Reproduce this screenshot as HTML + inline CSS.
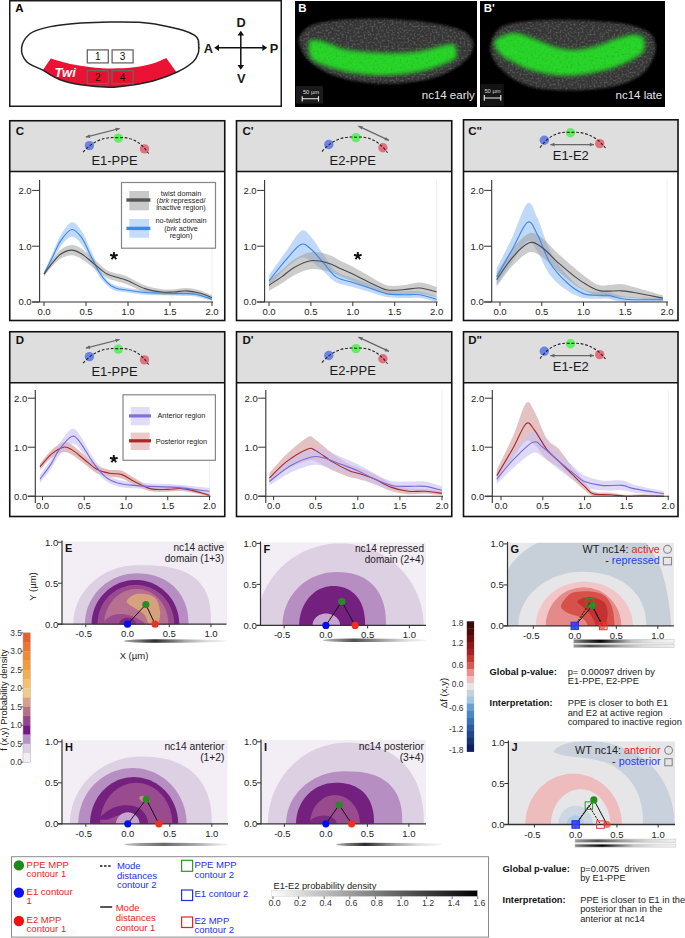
<!DOCTYPE html><html><head><meta charset="utf-8"><title>Figure</title><style>html,body{margin:0;padding:0;background:#fff;width:685px;height:938px;overflow:hidden}svg{display:block;font-family:"Liberation Sans",sans-serif}</style></head><body>
<svg width="685" height="938" viewBox="0 0 685 938">
<rect width="685" height="938" fill="#fff"/>
<rect x="9.75" y="0.75" width="271.5" height="105.5" fill="#fff" stroke="#1a1a1a" stroke-width="1.5"/>
<text x="15.3" y="12.3" font-size="11.5" text-anchor="start" font-weight="bold" font-style="normal" fill="#000" >A</text>
<path d="M50.8,58.5 C54.57,59.52 64.77,62.97 73.4,64.6 C82.03,66.23 92.85,67.8 102.6,68.3 C112.35,68.8 123.37,68.45 131.9,67.6 C140.43,66.75 148.08,64.78 153.8,63.2 C159.52,61.62 164.13,58.95 166.2,58.1 L176.4,71.9 C172.63,73.37 161.22,78.52 153.8,80.7 C146.38,82.88 139.2,83.9 131.9,85 C124.6,86.1 118.53,87.33 110,87.3 C101.47,87.27 89.23,86.15 80.7,84.8 C72.17,83.45 65.13,81.63 58.8,79.2 C52.47,76.77 45.38,71.7 42.7,70.2 Z" fill="#ec1234"/>
<path d="M21.6,47.8 C22.08,43.18 25.83,37.28 29.6,34 C33.37,30.72 39.33,29.57 44.2,28.1 C49.07,26.63 52.72,26.05 58.8,25.2 C64.88,24.35 72.17,23.53 80.7,23 C89.23,22.47 100.25,22.12 110,22 C119.75,21.88 130.68,21.77 139.2,22.3 C147.72,22.83 153.8,23.87 161.1,25.2 C168.4,26.53 177.4,28.6 183,30.3 C188.6,32 192.15,33.78 194.7,35.4 C197.25,37.02 197.65,38.23 198.3,40 C198.95,41.77 198.6,43.83 198.6,46 C198.6,48.17 199.2,50.38 198.3,53 C197.4,55.62 196.72,58.53 193.2,61.7 C189.68,64.87 183.77,68.83 177.2,72 C170.63,75.17 161.35,78.53 153.8,80.7 C146.25,82.87 139.2,83.9 131.9,85 C124.6,86.1 118.53,87.33 110,87.3 C101.47,87.27 89.23,86.15 80.7,84.8 C72.17,83.45 65.13,81.63 58.8,79.2 C52.47,76.77 48.05,73.12 42.7,70.2 C37.35,67.28 30.22,65.43 26.7,61.7 C23.18,57.97 21.12,52.42 21.6,47.8 Z" fill="none" stroke="#222" stroke-width="1.5"/>
<path d="M197.5,39 q2,1.5 0.5,3.5 q2,1.5 0.5,3.5 q2,1.5 0,3.5" fill="none" stroke="#333" stroke-width="0.8"/>
<text x="65.2" y="76.8" font-size="13" text-anchor="middle" font-weight="bold" font-style="italic" fill="#fff" >Twi</text>
<rect x="87.3" y="49.9" width="21" height="13" fill="#fff" stroke="#6e6464" stroke-width="1.3"/>
<text x="97.8" y="60.3" font-size="10" text-anchor="middle" font-weight="normal" font-style="normal" fill="#111" >1</text>
<rect x="112.1" y="49.9" width="21" height="13" fill="#fff" stroke="#6e6464" stroke-width="1.3"/>
<text x="122.6" y="60.3" font-size="10" text-anchor="middle" font-weight="normal" font-style="normal" fill="#111" >3</text>
<rect x="87.3" y="70.6" width="21" height="13" fill="#e8102c" stroke="#6e6464" stroke-width="1.3"/>
<text x="97.8" y="81" font-size="10" text-anchor="middle" font-weight="normal" font-style="normal" fill="#111" >2</text>
<rect x="112.1" y="70.6" width="21" height="13" fill="#e8102c" stroke="#6e6464" stroke-width="1.3"/>
<text x="122.6" y="81" font-size="10" text-anchor="middle" font-weight="normal" font-style="normal" fill="#111" >4</text>
<g stroke="#111" stroke-width="1.5" fill="#111">
<line x1="240.8" y1="34" x2="240.8" y2="66"/><line x1="217" y1="47.8" x2="264" y2="47.8"/>
</g>
<path d="M240.8,30.8 l-3.3,4.8 h6.6 z M240.8,69.8 l-3.3,-4.8 h6.6 z M214.2,47.8 l4.8,-3.3 v6.6 z M267.2,47.8 l-4.8,-3.3 v6.6 z" fill="#111"/>
<text x="241.2" y="27.1" font-size="12.8" text-anchor="middle" font-weight="bold" font-style="normal" fill="#1a1a1a" >D</text>
<text x="241.2" y="82.9" font-size="12.8" text-anchor="middle" font-weight="bold" font-style="normal" fill="#1a1a1a" >V</text>
<text x="208.3" y="53.4" font-size="12.8" text-anchor="middle" font-weight="bold" font-style="normal" fill="#1a1a1a" >A</text>
<text x="273.9" y="53.4" font-size="12.8" text-anchor="middle" font-weight="bold" font-style="normal" fill="#1a1a1a" >P</text>
<defs>
<filter id="texg" x="-5%" y="-5%" width="110%" height="110%">
 <feGaussianBlur in="SourceGraphic" stdDeviation="1.4" result="b"/>
 <feTurbulence type="fractalNoise" baseFrequency="0.5" numOctaves="2" seed="5" result="n"/>
 <feColorMatrix in="n" type="matrix" values="0 0 0 0 0.4  0 0 0 0 0.4  0 0 0 0 0.4  0.5 0 0 0 -0.22" result="spk"/>
 <feComposite in="spk" in2="b" operator="in" result="spk2"/>
 <feMerge><feMergeNode in="b"/><feMergeNode in="spk2"/></feMerge>
</filter>
<filter id="texgr" x="-5%" y="-5%" width="110%" height="110%">
 <feGaussianBlur in="SourceGraphic" stdDeviation="2.2" result="b"/>
 <feTurbulence type="fractalNoise" baseFrequency="0.45" numOctaves="2" seed="9" result="n"/>
 <feColorMatrix in="n" type="matrix" values="0 0 0 0 0  0 0 0 0 0.3  0 0 0 0 0  -1.0 0 0 0 0.5" result="spk"/>
 <feComposite in="spk" in2="b" operator="in" result="spk2"/>
 <feMerge><feMergeNode in="b"/><feMergeNode in="spk2"/></feMerge>
</filter>
</defs>
<rect x="295" y="1" width="182" height="106" fill="#000"/>
<path d="M299.7,36 C301.32,33 304.08,28.93 309.4,26.4 C314.72,23.87 323.28,22.05 331.6,20.8 C339.92,19.55 350.07,19.22 359.3,18.9 C368.53,18.58 377.75,18.58 387,18.9 C396.25,19.22 405.53,19.78 414.8,20.8 C424.07,21.82 434.73,23.38 442.6,25 C450.47,26.62 457.15,28.2 462,30.5 C466.85,32.8 469.87,36.02 471.7,38.8 C473.53,41.58 473.7,43.95 473,47.2 C472.3,50.45 471.18,54.38 467.5,58.3 C463.82,62.22 457.37,67.25 450.9,70.7 C444.43,74.15 437.02,76.92 428.7,79 C420.38,81.08 410.25,82.5 401,83.2 C391.75,83.9 382.45,83.9 373.2,83.2 C363.95,82.5 353.82,81.08 345.5,79 C337.18,76.92 329.78,74.15 323.3,70.7 C316.82,67.25 310.53,62.68 306.6,58.3 C302.67,53.92 300.85,48.12 299.7,44.4 C298.55,40.68 298.08,39 299.7,36 Z" fill="#363636" filter="url(#texg)"/>
<path d="M309.4,41.6 C310.55,38.72 314,39.73 317.7,40.2 C321.4,40.67 326.97,42.85 331.6,44.4 C336.23,45.95 338.57,48.15 345.5,49.5 C352.43,50.85 363.95,51.92 373.2,52.5 C382.45,53.08 392.7,53.28 401,53 C409.3,52.72 416.07,52 423,50.8 C429.93,49.6 437.48,46.87 442.6,45.8 C447.72,44.73 451.4,43.25 453.7,44.4 C456,45.55 456.4,50.17 456.4,52.7 C456.4,55.23 458.32,56.83 453.7,59.6 C449.08,62.37 437.48,66.85 428.7,69.3 C419.92,71.75 410.25,73.37 401,74.3 C391.75,75.23 382.45,75.37 373.2,74.9 C363.95,74.43 353.82,73.15 345.5,71.5 C337.18,69.85 329.08,67.33 323.3,65 C317.52,62.67 313.12,61.4 310.8,57.5 C308.48,53.6 308.25,44.48 309.4,41.6 Z" fill="#2ad42a" filter="url(#texgr)"/>
<rect x="296" y="86.1" width="27" height="17.5" fill="#1a1a1a"/>
<text x="311" y="93.6" font-size="5.8" text-anchor="middle" font-weight="normal" font-style="normal" fill="#ddd" >50 µm</text>
<path d="M302,98.8 h16.7 M302.2,96.2 v5.3 M318.5,96.2 v5.3" stroke="#eee" stroke-width="1.1"/>
<text x="474.8" y="98.8" font-size="11.5" text-anchor="end" font-weight="normal" font-style="normal" fill="#e6e6e6" >nc14 early</text>
<text x="298.2" y="12" font-size="11.5" text-anchor="start" font-weight="bold" font-style="normal" fill="#fff" >B</text>
<rect x="480" y="1" width="185" height="106" fill="#000"/>
<path d="M490.5,44.4 C491.43,38.85 495.35,31.4 500.2,27.7 C505.05,24 511.75,23.48 519.6,22.2 C527.45,20.92 538.07,20.37 547.3,20 C556.53,19.63 565.75,19.73 575,20 C584.25,20.27 593.53,20.77 602.8,21.6 C612.07,22.43 622.73,23.05 630.6,25 C638.47,26.95 645.85,30.07 650,33.3 C654.15,36.53 654.82,40.7 655.5,44.4 C656.18,48.1 655.95,50.88 654.1,55.5 C652.25,60.12 649.25,67.48 644.4,72.1 C639.55,76.72 633.32,80.33 625,83.2 C616.68,86.07 605.13,88.13 594.5,89.3 C583.87,90.47 571.37,90.52 561.2,90.2 C551.03,89.88 541.82,89.48 533.5,87.4 C525.18,85.32 517.78,82.1 511.3,77.7 C504.82,73.3 498.07,66.55 494.6,61 C491.13,55.45 489.57,49.95 490.5,44.4 Z" fill="#363636" filter="url(#texg)"/>
<path d="M494.6,41.6 C495.52,38.38 502,36.08 505.7,34.7 C509.4,33.32 512.17,32.62 516.8,33.3 C521.43,33.98 527.02,36.48 533.5,38.8 C539.98,41.12 548.78,45.33 555.7,47.2 C562.62,49.07 568.07,50.23 575,50 C581.93,49.77 590.35,47.67 597.3,45.8 C604.25,43.93 610.7,40.65 616.7,38.8 C622.7,36.95 628.92,34.92 633.3,34.7 C637.68,34.48 641.15,35.2 643,37.5 C644.85,39.8 645.08,45.5 644.4,48.5 C643.72,51.5 643.52,52.48 638.9,55.5 C634.28,58.52 625.02,63.6 616.7,66.6 C608.38,69.6 598.25,72.03 589,73.5 C579.75,74.97 570.45,75.87 561.2,75.4 C551.95,74.93 541.37,72.87 533.5,70.7 C525.63,68.53 519.55,65.18 514,62.4 C508.45,59.62 503.43,57.47 500.2,54 C496.97,50.53 493.68,44.82 494.6,41.6 Z" fill="#2ad42a" filter="url(#texgr)"/>
<rect x="480.6" y="84.1" width="23.2" height="22" fill="#141414"/>
<text x="492.5" y="93.3" font-size="5.8" text-anchor="middle" font-weight="normal" font-style="normal" fill="#ddd" >50 µm</text>
<path d="M484.1,98 h16.9 M484.3,95.1 v5.7 M500.8,95.1 v5.7" stroke="#eee" stroke-width="1.1"/>
<text x="662.2" y="98.6" font-size="11.5" text-anchor="end" font-weight="normal" font-style="normal" fill="#e6e6e6" >nc14 late</text>
<text x="483.8" y="11.7" font-size="11.5" text-anchor="start" font-weight="bold" font-style="normal" fill="#fff" >B'</text>
<rect x="9.75" y="120.75" width="215" height="50.75" fill="#dedede"/>
<rect x="9.75" y="171.5" width="215" height="149" fill="#fff"/>
<circle cx="89.4" cy="145.6" r="4.7" fill="#6c82e4"/>
<circle cx="118.4" cy="138.1" r="4.7" fill="#62ee62"/>
<circle cx="144.5" cy="148.9" r="4.7" fill="#e2707c"/>
<path d="M83.1,152.2 Q97.22,135.6 118.4,137.8 Q136.52,135.6 148.6,153.5" fill="none" stroke="#222" stroke-width="1.1" stroke-dasharray="2.8,1.8"/>
<line x1="85.8" y1="137.1" x2="119.7" y2="128.5" stroke="#666" stroke-width="1.2"/>
<path d="M119.7,128.5 L115.16,127.69 L116.1,131.37 Z" fill="#666"/>
<path d="M85.8,137.1 L90.34,137.91 L89.4,134.23 Z" fill="#666"/>
<text x="114.5" y="165.3" font-size="13" text-anchor="middle" font-weight="normal" font-style="normal" fill="#1a1a1a" >E1-PPE</text>
<rect x="9.75" y="120.75" width="215" height="199.75" fill="none" stroke="#111" stroke-width="1.6"/>
<line x1="9.75" y1="171.5" x2="224.75" y2="171.5" stroke="#111" stroke-width="1.6"/>
<rect x="236.5" y="120.75" width="215.25" height="50.75" fill="#dedede"/>
<rect x="236.5" y="171.5" width="215.25" height="149" fill="#fff"/>
<circle cx="328.8" cy="144.5" r="4.7" fill="#6c82e4"/>
<circle cx="356" cy="137.6" r="4.7" fill="#62ee62"/>
<circle cx="382.9" cy="147.7" r="4.7" fill="#e2707c"/>
<path d="M322,151.6 Q335.6,135.1 356,137.3 Q374.9,135.1 387.5,152.8" fill="none" stroke="#222" stroke-width="1.1" stroke-dasharray="2.8,1.8"/>
<line x1="358.4" y1="126.1" x2="389" y2="140.4" stroke="#666" stroke-width="1.2"/>
<path d="M389,140.4 L386,136.9 L384.39,140.34 Z" fill="#666"/>
<path d="M358.4,126.1 L361.4,129.6 L363.01,126.16 Z" fill="#666"/>
<text x="352.7" y="164.8" font-size="13" text-anchor="middle" font-weight="normal" font-style="normal" fill="#1a1a1a" >E2-PPE</text>
<rect x="236.5" y="120.75" width="215.25" height="199.75" fill="none" stroke="#111" stroke-width="1.6"/>
<line x1="236.5" y1="171.5" x2="451.75" y2="171.5" stroke="#111" stroke-width="1.6"/>
<rect x="463.5" y="119.8" width="214.5" height="51.7" fill="#dedede"/>
<rect x="463.5" y="171.5" width="214.5" height="149" fill="#fff"/>
<circle cx="544.3" cy="140.2" r="4.7" fill="#6c82e4"/>
<circle cx="570.5" cy="132.8" r="4.7" fill="#62ee62"/>
<circle cx="599.7" cy="143.6" r="4.7" fill="#e2707c"/>
<path d="M540,147.6 Q552.2,130.3 570.5,132.5 Q591.5,130.3 605.5,148" fill="none" stroke="#222" stroke-width="1.1" stroke-dasharray="2.8,1.8"/>
<line x1="550.3" y1="144.6" x2="594" y2="144.6" stroke="#666" stroke-width="1.2"/>
<path d="M594,144.6 L589.8,142.7 L589.8,146.5 Z" fill="#666"/>
<path d="M550.3,144.6 L554.5,146.5 L554.5,142.7 Z" fill="#666"/>
<text x="570.8" y="160.4" font-size="13" text-anchor="middle" font-weight="normal" font-style="normal" fill="#1a1a1a" >E1-E2</text>
<rect x="463.5" y="119.8" width="214.5" height="200.7" fill="none" stroke="#111" stroke-width="1.6"/>
<line x1="463.5" y1="171.5" x2="678" y2="171.5" stroke="#111" stroke-width="1.6"/>
<text x="15.75" y="135" font-size="11.5" text-anchor="start" font-weight="bold" font-style="normal" fill="#111" >C</text>
<text x="242.5" y="135" font-size="11.5" text-anchor="start" font-weight="bold" font-style="normal" fill="#111" >C'</text>
<text x="468.3" y="135" font-size="11.5" text-anchor="start" font-weight="bold" font-style="normal" fill="#111" >C"</text>
<rect x="9.75" y="331.75" width="215" height="51" fill="#dedede"/>
<rect x="9.75" y="382.75" width="215" height="133.75" fill="#fff"/>
<circle cx="89.4" cy="356.6" r="4.7" fill="#6c82e4"/>
<circle cx="118.4" cy="349.1" r="4.7" fill="#62ee62"/>
<circle cx="144.5" cy="359.9" r="4.7" fill="#e2707c"/>
<path d="M83.1,363.2 Q97.22,346.6 118.4,348.8 Q136.52,346.6 148.6,364.5" fill="none" stroke="#222" stroke-width="1.1" stroke-dasharray="2.8,1.8"/>
<line x1="85.8" y1="348.1" x2="119.7" y2="339.5" stroke="#666" stroke-width="1.2"/>
<path d="M119.7,339.5 L115.16,338.69 L116.1,342.37 Z" fill="#666"/>
<path d="M85.8,348.1 L90.34,348.91 L89.4,345.23 Z" fill="#666"/>
<text x="114.5" y="375.8" font-size="13" text-anchor="middle" font-weight="normal" font-style="normal" fill="#1a1a1a" >E1-PPE</text>
<rect x="9.75" y="331.75" width="215" height="184.75" fill="none" stroke="#111" stroke-width="1.6"/>
<line x1="9.75" y1="382.75" x2="224.75" y2="382.75" stroke="#111" stroke-width="1.6"/>
<rect x="236.5" y="331.75" width="215.25" height="51" fill="#dedede"/>
<rect x="236.5" y="382.75" width="215.25" height="133.75" fill="#fff"/>
<circle cx="328.8" cy="355.5" r="4.7" fill="#6c82e4"/>
<circle cx="356" cy="348.6" r="4.7" fill="#62ee62"/>
<circle cx="382.9" cy="358.7" r="4.7" fill="#e2707c"/>
<path d="M322,362.6 Q335.6,346.1 356,348.3 Q374.9,346.1 387.5,363.8" fill="none" stroke="#222" stroke-width="1.1" stroke-dasharray="2.8,1.8"/>
<line x1="358.4" y1="337.1" x2="389" y2="351.4" stroke="#666" stroke-width="1.2"/>
<path d="M389,351.4 L386,347.9 L384.39,351.34 Z" fill="#666"/>
<path d="M358.4,337.1 L361.4,340.6 L363.01,337.16 Z" fill="#666"/>
<text x="352.7" y="375.3" font-size="13" text-anchor="middle" font-weight="normal" font-style="normal" fill="#1a1a1a" >E2-PPE</text>
<rect x="236.5" y="331.75" width="215.25" height="184.75" fill="none" stroke="#111" stroke-width="1.6"/>
<line x1="236.5" y1="382.75" x2="451.75" y2="382.75" stroke="#111" stroke-width="1.6"/>
<rect x="463.5" y="331.75" width="214.5" height="51" fill="#dedede"/>
<rect x="463.5" y="382.75" width="214.5" height="133.75" fill="#fff"/>
<circle cx="544.3" cy="351.2" r="4.7" fill="#6c82e4"/>
<circle cx="570.5" cy="343.8" r="4.7" fill="#62ee62"/>
<circle cx="599.7" cy="354.6" r="4.7" fill="#e2707c"/>
<path d="M540,358.6 Q552.2,341.3 570.5,343.5 Q591.5,341.3 605.5,359" fill="none" stroke="#222" stroke-width="1.1" stroke-dasharray="2.8,1.8"/>
<line x1="550.3" y1="355.6" x2="594" y2="355.6" stroke="#666" stroke-width="1.2"/>
<path d="M594,355.6 L589.8,353.7 L589.8,357.5 Z" fill="#666"/>
<path d="M550.3,355.6 L554.5,357.5 L554.5,353.7 Z" fill="#666"/>
<text x="570.8" y="370.9" font-size="13" text-anchor="middle" font-weight="normal" font-style="normal" fill="#1a1a1a" >E1-E2</text>
<rect x="463.5" y="331.75" width="214.5" height="184.75" fill="none" stroke="#111" stroke-width="1.6"/>
<line x1="463.5" y1="382.75" x2="678" y2="382.75" stroke="#111" stroke-width="1.6"/>
<text x="15.75" y="343.5" font-size="11.5" text-anchor="start" font-weight="bold" font-style="normal" fill="#111" >D</text>
<text x="242.5" y="343.5" font-size="11.5" text-anchor="start" font-weight="bold" font-style="normal" fill="#111" >D'</text>
<text x="468.3" y="343.5" font-size="11.5" text-anchor="start" font-weight="bold" font-style="normal" fill="#111" >D"</text>
<line x1="212" y1="180" x2="212" y2="302" stroke="#eeeeee" stroke-width="1"/>
<path d="M44,271.87 C45.4,268.8 49.6,259.59 52.4,253.45 C55.2,247.32 57.58,240.25 60.8,235.04 C64.02,229.83 68.22,222.86 71.72,222.21 C75.22,221.56 78.72,226.67 81.8,231.13 C84.88,235.6 87.4,242.95 90.2,248.99 C93,255.03 95.8,262.29 98.6,267.4 C101.4,272.52 104.2,276.7 107,279.68 C109.8,282.66 111.9,283.87 115.4,285.26 C118.9,286.65 123.1,287.21 128,288.05 C132.9,288.89 139.2,289.82 144.8,290.28 C150.4,290.75 156,290.65 161.6,290.84 C167.2,291.03 172.8,291.21 178.4,291.4 C184,291.58 189.6,290.93 195.2,291.96 C200.8,292.98 209.2,296.61 212,297.54 L212,300.88 C209.2,300.14 200.8,297.26 195.2,296.42 C189.6,295.58 184,296.05 178.4,295.86 C172.8,295.68 167.2,295.49 161.6,295.3 C156,295.12 150.4,295.21 144.8,294.75 C139.2,294.28 132.9,293.17 128,292.51 C123.1,291.86 118.9,292.05 115.4,290.84 C111.9,289.63 109.8,287.86 107,285.26 C104.2,282.66 101.4,279.4 98.6,275.22 C95.8,271.03 93,265.26 90.2,260.15 C87.4,255.03 84.88,248.43 81.8,244.53 C78.72,240.62 75.22,236.44 71.72,236.71 C68.22,236.99 64.02,242.11 60.8,246.2 C57.58,250.29 55.2,256.24 52.4,261.27 C49.6,266.29 45.4,273.82 44,276.33 Z" fill="#a9cbf7" fill-opacity="0.72"/>
<path d="M44,271.87 C45.4,269.82 49.6,263.31 52.4,259.59 C55.2,255.87 57.58,251.97 60.8,249.55 C64.02,247.13 68.22,245.18 71.72,245.08 C75.22,244.99 78.02,246.57 81.8,248.99 C85.58,251.41 90.2,256.06 94.4,259.59 C98.6,263.13 102.8,267.78 107,270.19 C111.2,272.61 116.1,272.98 119.6,274.1 C123.1,275.22 123.8,275.03 128,276.89 C132.2,278.75 139.2,283.21 144.8,285.26 C150.4,287.31 156.7,288.51 161.6,289.17 C166.5,289.82 170,289.35 174.2,289.17 C178.4,288.98 182.6,287.86 186.8,288.05 C191,288.24 195.2,289.07 199.4,290.28 C203.6,291.49 209.9,294.47 212,295.3 L212,299.77 C209.9,299.12 203.6,296.88 199.4,295.86 C195.2,294.84 191,293.82 186.8,293.63 C182.6,293.44 178.4,294.56 174.2,294.75 C170,294.93 166.5,295.21 161.6,294.75 C156.7,294.28 150.4,293.63 144.8,291.96 C139.2,290.28 132.2,286.38 128,284.7 C123.8,283.03 123.1,283.03 119.6,281.91 C116.1,280.8 111.2,280.24 107,278.01 C102.8,275.77 98.6,271.68 94.4,268.52 C90.2,265.36 85.58,261.27 81.8,259.03 C78.02,256.8 75.22,255.22 71.72,255.13 C68.22,255.03 64.02,256.62 60.8,258.48 C57.58,260.34 55.2,263.31 52.4,266.29 C49.6,269.26 45.4,274.66 44,276.33 Z" fill="#9a9a9a" fill-opacity="0.5"/>
<path d="M44,274.1 C45.4,271.31 49.6,262.94 52.4,257.36 C55.2,251.78 57.58,245.27 60.8,240.62 C64.02,235.97 68.22,229.93 71.72,229.46 C75.22,229 78.72,233.65 81.8,237.83 C84.88,242.02 87.4,248.99 90.2,254.57 C93,260.15 95.8,266.66 98.6,271.31 C101.4,275.96 104.2,279.68 107,282.47 C109.8,285.26 111.9,286.75 115.4,288.05 C118.9,289.35 123.1,289.54 128,290.28 C132.9,291.03 139.2,292.05 144.8,292.51 C150.4,292.98 156,292.89 161.6,293.07 C167.2,293.26 172.8,293.44 178.4,293.63 C184,293.82 189.6,293.26 195.2,294.19 C200.8,295.12 209.2,298.37 212,299.21" fill="none" stroke="#3a88e8" stroke-width="1.1"/>
<path d="M44,274.1 C45.4,272.24 49.6,266.29 52.4,262.94 C55.2,259.59 57.58,256.15 60.8,254.01 C64.02,251.87 68.22,250.11 71.72,250.11 C75.22,250.11 78.02,251.69 81.8,254.01 C85.58,256.34 90.2,260.71 94.4,264.06 C98.6,267.4 102.8,271.78 107,274.1 C111.2,276.43 116.1,276.89 119.6,278.01 C123.1,279.12 123.8,279.03 128,280.8 C132.2,282.56 139.2,286.75 144.8,288.61 C150.4,290.47 156.7,291.4 161.6,291.96 C166.5,292.51 170,292.14 174.2,291.96 C178.4,291.77 182.6,290.65 186.8,290.84 C191,291.03 195.2,291.96 199.4,293.07 C203.6,294.19 209.9,296.79 212,297.54" fill="none" stroke="#4a4a4a" stroke-width="1.1"/>
<line x1="39.6" y1="180" x2="39.6" y2="302" stroke="#333" stroke-width="1.1"/>
<line x1="32.1" y1="302" x2="213" y2="302" stroke="#333" stroke-width="1.1"/>
<line x1="32.1" y1="190.4" x2="39.6" y2="190.4" stroke="#333" stroke-width="1"/>
<text x="31.6" y="193.8" font-size="9.5" text-anchor="end" font-weight="normal" font-style="normal" fill="#222" >2.0</text>
<line x1="32.1" y1="246.2" x2="39.6" y2="246.2" stroke="#333" stroke-width="1"/>
<text x="31.6" y="249.6" font-size="9.5" text-anchor="end" font-weight="normal" font-style="normal" fill="#222" >1.0</text>
<line x1="32.1" y1="302" x2="39.6" y2="302" stroke="#333" stroke-width="1"/>
<text x="31.6" y="305.4" font-size="9.5" text-anchor="end" font-weight="normal" font-style="normal" fill="#222" >0.0</text>
<line x1="44" y1="302" x2="44" y2="306" stroke="#333" stroke-width="1"/>
<text x="44" y="314.5" font-size="9.5" text-anchor="middle" font-weight="normal" font-style="normal" fill="#222" >0.0</text>
<line x1="86" y1="302" x2="86" y2="306" stroke="#333" stroke-width="1"/>
<text x="86" y="314.5" font-size="9.5" text-anchor="middle" font-weight="normal" font-style="normal" fill="#222" >0.5</text>
<line x1="128" y1="302" x2="128" y2="306" stroke="#333" stroke-width="1"/>
<text x="128" y="314.5" font-size="9.5" text-anchor="middle" font-weight="normal" font-style="normal" fill="#222" >1.0</text>
<line x1="170" y1="302" x2="170" y2="306" stroke="#333" stroke-width="1"/>
<text x="170" y="314.5" font-size="9.5" text-anchor="middle" font-weight="normal" font-style="normal" fill="#222" >1.5</text>
<line x1="212" y1="302" x2="212" y2="306" stroke="#333" stroke-width="1"/>
<text x="212" y="314.5" font-size="9.5" text-anchor="middle" font-weight="normal" font-style="normal" fill="#222" >2.0</text>
<rect x="121.5" y="182.5" width="94" height="65.7" fill="#fff" stroke="#8a8484" stroke-width="1.2"/>
<rect x="129.3" y="191" width="19.8" height="19.3" fill="#c9c9c9"/>
<rect x="126.4" y="198.3" width="24" height="3.4" fill="#555"/>
<rect x="129.3" y="219" width="19.8" height="18.7" fill="#c4dcfa"/>
<rect x="126.4" y="226.7" width="24" height="3.4" fill="#3a8ae8"/>
<text x="181" y="196" font-size="7.3" text-anchor="middle" font-weight="normal" font-style="normal" fill="#222" >twist domain</text>
<text x="181" y="203" font-size="7.3" text-anchor="middle" font-weight="normal" font-style="normal" fill="#222" >(<tspan font-style="italic">brk</tspan> repressed/</text>
<text x="181" y="210" font-size="7.3" text-anchor="middle" font-weight="normal" font-style="normal" fill="#222" >inactive region)</text>
<text x="181" y="223.3" font-size="7.3" text-anchor="middle" font-weight="normal" font-style="normal" fill="#222" >no-twist domain</text>
<text x="181" y="230.5" font-size="7.3" text-anchor="middle" font-weight="normal" font-style="normal" fill="#222" >(<tspan font-style="italic">brk</tspan> active</text>
<text x="181" y="237.6" font-size="7.3" text-anchor="middle" font-weight="normal" font-style="normal" fill="#222" >region)</text>
<path d="M113.9,256 L113.9,252 M113.9,256 L117.7,254.76 M113.9,256 L116.25,259.24 M113.9,256 L111.55,259.24 M113.9,256 L110.1,254.76 " stroke="#111" stroke-width="1.9" stroke-linecap="butt"/>
<line x1="436.6" y1="180" x2="436.6" y2="302" stroke="#eeeeee" stroke-width="1"/>
<path d="M269,275.22 C271.79,271.31 280.45,259.13 285.76,251.78 C291.07,244.43 296.65,233.65 300.84,231.13 C305.03,228.62 307.13,232.81 310.9,236.71 C314.67,240.62 319.28,248.8 323.47,254.57 C327.66,260.34 331.15,267.4 336.04,271.31 C340.93,275.22 347.21,275.87 352.8,278.01 C358.39,280.14 363.97,282.1 369.56,284.14 C375.15,286.19 380.73,289.07 386.32,290.28 C391.91,291.49 397.49,291.21 403.08,291.4 C408.67,291.58 414.25,290.56 419.84,291.4 C425.43,292.24 433.81,295.58 436.6,296.42 L436.6,302 C433.81,301.35 425.43,298.75 419.84,298.09 C414.25,297.44 408.67,298.28 403.08,298.09 C397.49,297.91 391.91,298 386.32,296.98 C380.73,295.96 375.15,293.63 369.56,291.96 C363.97,290.28 358.39,288.52 352.8,286.93 C347.21,285.35 340.93,285.07 336.04,282.47 C331.15,279.87 327.66,274.84 323.47,271.31 C319.28,267.78 314.67,263.5 310.9,261.27 C307.13,259.03 305.03,256.71 300.84,257.92 C296.65,259.13 291.07,263.78 285.76,268.52 C280.45,273.26 271.79,283.4 269,286.38 Z" fill="#a9cbf7" fill-opacity="0.72"/>
<path d="M269,279.68 C271.1,278.1 277.38,273.54 281.57,270.19 C285.76,266.85 289.25,262.57 294.14,259.59 C299.03,256.62 305.31,253.17 310.9,252.34 C316.49,251.5 322.77,253.17 327.66,254.57 C332.55,255.97 336.04,258.66 340.23,260.71 C344.42,262.75 347.91,264.24 352.8,266.85 C357.69,269.45 363.97,273.26 369.56,276.33 C375.15,279.4 380.73,283.77 386.32,285.26 C391.91,286.75 397.49,285.72 403.08,285.26 C408.67,284.8 414.25,282.19 419.84,282.47 C425.43,282.75 433.81,286.19 436.6,286.93 L436.6,296.98 C433.81,296.42 425.43,294.1 419.84,293.63 C414.25,293.16 408.67,294.09 403.08,294.19 C397.49,294.28 391.91,295.12 386.32,294.19 C380.73,293.26 375.15,290.75 369.56,288.61 C363.97,286.47 357.69,283.4 352.8,281.35 C347.91,279.31 344.42,278.01 340.23,276.33 C336.04,274.66 332.55,272.52 327.66,271.31 C322.77,270.1 316.49,268.43 310.9,269.08 C305.31,269.73 299.03,272.8 294.14,275.22 C289.25,277.63 285.76,280.98 281.57,283.59 C277.38,286.19 271.1,289.63 269,290.84 Z" fill="#9a9a9a" fill-opacity="0.5"/>
<path d="M269,280.8 C271.79,277.36 280.45,266.19 285.76,260.15 C291.07,254.1 296.65,246.39 300.84,244.53 C305.03,242.67 307.13,245.92 310.9,248.99 C314.67,252.06 319.28,258.29 323.47,262.94 C327.66,267.59 331.15,273.63 336.04,276.89 C340.93,280.14 347.21,280.61 352.8,282.47 C358.39,284.33 363.97,286.19 369.56,288.05 C375.15,289.91 380.73,292.51 386.32,293.63 C391.91,294.75 397.49,294.56 403.08,294.75 C408.67,294.93 414.25,294 419.84,294.75 C425.43,295.49 433.81,298.47 436.6,299.21" fill="none" stroke="#3a88e8" stroke-width="1.1"/>
<path d="M269,285.26 C271.1,283.87 277.38,279.87 281.57,276.89 C285.76,273.91 289.25,270.1 294.14,267.4 C299.03,264.71 305.31,261.45 310.9,260.71 C316.49,259.96 322.77,261.64 327.66,262.94 C332.55,264.24 336.04,266.66 340.23,268.52 C344.42,270.38 347.91,271.78 352.8,274.1 C357.69,276.43 363.97,279.87 369.56,282.47 C375.15,285.07 380.73,288.51 386.32,289.72 C391.91,290.93 397.49,290 403.08,289.72 C408.67,289.44 414.25,287.68 419.84,288.05 C425.43,288.42 433.81,291.31 436.6,291.96" fill="none" stroke="#4a4a4a" stroke-width="1.1"/>
<line x1="264.6" y1="180" x2="264.6" y2="302" stroke="#333" stroke-width="1.1"/>
<line x1="257.1" y1="302" x2="437.6" y2="302" stroke="#333" stroke-width="1.1"/>
<line x1="257.1" y1="190.4" x2="264.6" y2="190.4" stroke="#333" stroke-width="1"/>
<text x="256.6" y="193.8" font-size="9.5" text-anchor="end" font-weight="normal" font-style="normal" fill="#222" >2.0</text>
<line x1="257.1" y1="246.2" x2="264.6" y2="246.2" stroke="#333" stroke-width="1"/>
<text x="256.6" y="249.6" font-size="9.5" text-anchor="end" font-weight="normal" font-style="normal" fill="#222" >1.0</text>
<line x1="257.1" y1="302" x2="264.6" y2="302" stroke="#333" stroke-width="1"/>
<text x="256.6" y="305.4" font-size="9.5" text-anchor="end" font-weight="normal" font-style="normal" fill="#222" >0.0</text>
<line x1="269" y1="302" x2="269" y2="306" stroke="#333" stroke-width="1"/>
<text x="269" y="314.5" font-size="9.5" text-anchor="middle" font-weight="normal" font-style="normal" fill="#222" >0.0</text>
<line x1="310.9" y1="302" x2="310.9" y2="306" stroke="#333" stroke-width="1"/>
<text x="310.9" y="314.5" font-size="9.5" text-anchor="middle" font-weight="normal" font-style="normal" fill="#222" >0.5</text>
<line x1="352.8" y1="302" x2="352.8" y2="306" stroke="#333" stroke-width="1"/>
<text x="352.8" y="314.5" font-size="9.5" text-anchor="middle" font-weight="normal" font-style="normal" fill="#222" >1.0</text>
<line x1="394.7" y1="302" x2="394.7" y2="306" stroke="#333" stroke-width="1"/>
<text x="394.7" y="314.5" font-size="9.5" text-anchor="middle" font-weight="normal" font-style="normal" fill="#222" >1.5</text>
<line x1="436.6" y1="302" x2="436.6" y2="306" stroke="#333" stroke-width="1"/>
<text x="436.6" y="314.5" font-size="9.5" text-anchor="middle" font-weight="normal" font-style="normal" fill="#222" >2.0</text>
<path d="M357.8,256 L357.8,252 M357.8,256 L361.6,254.76 M357.8,256 L360.15,259.24 M357.8,256 L355.45,259.24 M357.8,256 L354,254.76 " stroke="#111" stroke-width="1.9" stroke-linecap="butt"/>
<line x1="667" y1="180" x2="667" y2="302" stroke="#eeeeee" stroke-width="1"/>
<path d="M496.66,268.52 C499.3,263.22 507.38,247.59 512.52,236.71 C517.67,225.83 523.38,206.3 527.55,203.23 C531.73,200.17 533.82,210.4 537.58,218.3 C541.33,226.21 545.23,241.27 550.1,250.66 C554.97,260.06 561.23,268.24 566.8,274.66 C572.37,281.07 577.93,286.28 583.5,289.17 C589.07,292.05 596.03,291.49 600.2,291.96 C604.38,292.42 604.38,291.21 608.55,291.96 C612.72,292.7 616.2,295.4 625.25,296.42 C634.3,297.44 656.56,297.81 662.83,298.09 L662.83,301.44 C656.56,301.54 634.3,302.47 625.25,302 C616.2,301.53 612.72,299.21 608.55,298.65 C604.38,298.09 604.38,298.75 600.2,298.65 C596.03,298.56 589.07,299.49 583.5,298.09 C577.93,296.7 572.37,294.09 566.8,290.28 C561.23,286.47 554.97,281.63 550.1,275.22 C545.23,268.8 541.33,257.45 537.58,251.78 C533.82,246.11 531.73,239.6 527.55,241.18 C523.38,242.76 517.67,253.92 512.52,261.27 C507.38,268.61 499.3,281.26 496.66,285.26 Z" fill="#a9cbf7" fill-opacity="0.72"/>
<path d="M496.66,272.98 C499.3,268.99 507.1,255.59 512.52,248.99 C517.95,242.39 524.35,235.23 529.23,233.37 C534.1,231.51 536.88,234.39 541.75,237.83 C546.62,241.27 552.88,248.9 558.45,254.01 C564.02,259.13 570.28,264.43 575.15,268.52 C580.02,272.61 583.5,275.77 587.67,278.56 C591.85,281.35 594.63,284.33 600.2,285.26 C605.77,286.19 615.51,283.87 621.08,284.14 C626.64,284.42 626.64,285.07 633.6,286.93 C640.56,288.79 657.95,293.91 662.83,295.3 L662.83,300.88 C657.95,300.42 640.56,298.65 633.6,298.09 C626.64,297.54 626.64,297.81 621.08,297.54 C615.51,297.26 605.77,297.35 600.2,296.42 C594.63,295.49 591.85,293.82 587.67,291.96 C583.5,290.1 580.02,288.61 575.15,285.26 C570.28,281.91 564.02,276.61 558.45,271.87 C552.88,267.12 546.62,260.06 541.75,256.8 C536.88,253.55 534.1,250.85 529.23,252.34 C524.35,253.83 517.95,260.06 512.52,265.73 C507.1,271.4 499.3,282.94 496.66,286.38 Z" fill="#9a9a9a" fill-opacity="0.5"/>
<path d="M496.66,276.89 C499.3,272.24 507.38,258.1 512.52,248.99 C517.67,239.88 523.38,224.53 527.55,222.21 C531.73,219.88 533.82,228.25 537.58,235.04 C541.33,241.83 545.23,255.03 550.1,262.94 C554.97,270.85 561.23,277.36 566.8,282.47 C572.37,287.59 577.93,291.49 583.5,293.63 C589.07,295.77 596.03,295.02 600.2,295.3 C604.38,295.58 604.38,294.65 608.55,295.3 C612.72,295.95 616.2,298.47 625.25,299.21 C634.3,299.95 656.56,299.67 662.83,299.77" fill="none" stroke="#3a88e8" stroke-width="1.1"/>
<path d="M496.66,279.68 C499.3,275.96 507.1,263.5 512.52,257.36 C517.95,251.22 524.35,244.53 529.23,242.85 C534.1,241.18 536.88,243.97 541.75,247.32 C546.62,250.66 552.88,258.01 558.45,262.94 C564.02,267.87 570.28,273.17 575.15,276.89 C580.02,280.61 583.5,282.94 587.67,285.26 C591.85,287.58 594.63,289.91 600.2,290.84 C605.77,291.77 615.51,290.56 621.08,290.84 C626.64,291.12 626.64,291.31 633.6,292.51 C640.56,293.72 657.95,297.16 662.83,298.09" fill="none" stroke="#4a4a4a" stroke-width="1.1"/>
<line x1="491.7" y1="180" x2="491.7" y2="302" stroke="#333" stroke-width="1.1"/>
<line x1="484.2" y1="302" x2="668" y2="302" stroke="#333" stroke-width="1.1"/>
<line x1="484.2" y1="190.4" x2="491.7" y2="190.4" stroke="#333" stroke-width="1"/>
<text x="483.7" y="193.8" font-size="9.5" text-anchor="end" font-weight="normal" font-style="normal" fill="#222" >2.0</text>
<line x1="484.2" y1="246.2" x2="491.7" y2="246.2" stroke="#333" stroke-width="1"/>
<text x="483.7" y="249.6" font-size="9.5" text-anchor="end" font-weight="normal" font-style="normal" fill="#222" >1.0</text>
<line x1="484.2" y1="302" x2="491.7" y2="302" stroke="#333" stroke-width="1"/>
<text x="483.7" y="305.4" font-size="9.5" text-anchor="end" font-weight="normal" font-style="normal" fill="#222" >0.0</text>
<line x1="500" y1="302" x2="500" y2="306" stroke="#333" stroke-width="1"/>
<text x="500" y="314.5" font-size="9.5" text-anchor="middle" font-weight="normal" font-style="normal" fill="#222" >0.0</text>
<line x1="541.75" y1="302" x2="541.75" y2="306" stroke="#333" stroke-width="1"/>
<text x="541.75" y="314.5" font-size="9.5" text-anchor="middle" font-weight="normal" font-style="normal" fill="#222" >0.5</text>
<line x1="583.5" y1="302" x2="583.5" y2="306" stroke="#333" stroke-width="1"/>
<text x="583.5" y="314.5" font-size="9.5" text-anchor="middle" font-weight="normal" font-style="normal" fill="#222" >1.0</text>
<line x1="625.25" y1="302" x2="625.25" y2="306" stroke="#333" stroke-width="1"/>
<text x="625.25" y="314.5" font-size="9.5" text-anchor="middle" font-weight="normal" font-style="normal" fill="#222" >1.5</text>
<line x1="667" y1="302" x2="667" y2="306" stroke="#333" stroke-width="1"/>
<text x="667" y="314.5" font-size="9.5" text-anchor="middle" font-weight="normal" font-style="normal" fill="#222" >2.0</text>
<line x1="209.5" y1="390" x2="209.5" y2="496.2" stroke="#eeeeee" stroke-width="1"/>
<path d="M39.99,463.86 C41.8,461.66 46.95,454.22 50.85,450.63 C54.75,447.04 59.9,443.28 63.38,442.3 C66.85,441.32 68.25,442.63 71.72,444.75 C75.2,446.87 80.08,451.61 84.25,455.04 C88.42,458.47 92.6,462.88 96.78,465.33 C100.95,467.78 105.12,468.84 109.3,469.74 C113.47,470.64 117.65,469.33 121.83,470.72 C126,472.11 129.48,475.46 134.35,478.07 C139.22,480.68 145.48,484.93 151.05,486.4 C156.62,487.87 162.18,486.89 167.75,486.89 C173.32,486.89 177.49,485.26 184.45,486.4 C191.41,487.54 205.32,492.52 209.5,493.75 L209.5,496.2 C205.32,495.38 191.41,492.04 184.45,491.3 C177.49,490.56 173.32,491.79 167.75,491.79 C162.18,491.79 156.62,492.44 151.05,491.3 C145.48,490.16 139.22,487.05 134.35,484.93 C129.48,482.81 126,479.95 121.83,478.56 C117.65,477.17 113.47,477.5 109.3,476.6 C105.12,475.7 100.95,475.29 96.78,473.17 C92.6,471.05 88.42,466.96 84.25,463.86 C80.08,460.76 75.2,456.51 71.72,454.55 C68.25,452.59 66.85,451.45 63.38,452.1 C59.9,452.75 54.75,455.53 50.85,458.47 C46.95,461.41 41.8,467.86 39.99,469.74 Z" fill="#cf9090" fill-opacity="0.6"/>
<path d="M39.99,475.13 C41.8,472.52 47.65,464.68 50.85,459.45 C54.05,454.22 55.72,448.83 59.2,443.77 C62.68,438.71 68.25,430.46 71.72,429.07 C75.2,427.68 76.6,430.78 80.08,435.44 C83.55,440.1 88.42,450.79 92.6,457 C96.77,463.21 100.95,468.92 105.12,472.68 C109.3,476.44 112.78,477.91 117.65,479.54 C122.52,481.17 128.78,481.83 134.35,482.48 C139.92,483.13 144.09,483.13 151.05,483.46 C158.01,483.79 166.36,483.7 176.1,484.44 C185.84,485.18 203.93,487.3 209.5,487.87 L209.5,494.73 C203.93,493.99 185.84,491.22 176.1,490.32 C166.36,489.42 158.01,489.67 151.05,489.34 C144.09,489.01 139.92,488.85 134.35,488.36 C128.78,487.87 122.52,487.71 117.65,486.4 C112.78,485.09 109.3,483.79 105.12,480.52 C100.95,477.25 96.77,472.03 92.6,466.8 C88.42,461.57 83.55,453 80.08,449.16 C76.6,445.32 75.2,442.71 71.72,443.77 C68.25,444.83 62.68,451.28 59.2,455.53 C55.72,459.78 54.05,464.68 50.85,469.25 C47.65,473.82 41.8,480.68 39.99,482.97 Z" fill="#c8c0f2" fill-opacity="0.6"/>
<path d="M39.99,466.8 C41.8,464.76 46.95,457.82 50.85,454.55 C54.75,451.28 59.9,448.02 63.38,447.2 C66.85,446.38 68.25,447.61 71.72,449.65 C75.2,451.69 80.08,456.18 84.25,459.45 C88.42,462.72 92.6,466.96 96.78,469.25 C100.95,471.54 105.12,472.27 109.3,473.17 C113.47,474.07 117.65,473.25 121.83,474.64 C126,476.03 129.48,479.13 134.35,481.5 C139.22,483.87 145.48,487.54 151.05,488.85 C156.62,490.16 162.18,489.34 167.75,489.34 C173.32,489.34 177.49,487.87 184.45,488.85 C191.41,489.83 205.32,494.16 209.5,495.22" fill="none" stroke="#a82828" stroke-width="1.1"/>
<path d="M39.99,479.05 C41.8,476.6 47.65,469.25 50.85,464.35 C54.05,459.45 55.72,454.3 59.2,449.65 C62.68,445 68.25,437.64 71.72,436.42 C75.2,435.19 76.6,438.05 80.08,442.3 C83.55,446.55 88.42,456.18 92.6,461.9 C96.77,467.62 100.95,473.09 105.12,476.6 C109.3,480.11 112.78,481.5 117.65,482.97 C122.52,484.44 128.78,484.85 134.35,485.42 C139.92,485.99 144.09,486.07 151.05,486.4 C158.01,486.73 166.36,486.56 176.1,487.38 C185.84,488.2 203.93,490.65 209.5,491.3" fill="none" stroke="#7a6ad8" stroke-width="1.1"/>
<line x1="35.3" y1="390" x2="35.3" y2="503" stroke="#333" stroke-width="1.1"/>
<line x1="27.8" y1="496.2" x2="210.5" y2="496.2" stroke="#333" stroke-width="1.1"/>
<line x1="27.8" y1="398.2" x2="35.3" y2="398.2" stroke="#333" stroke-width="1"/>
<text x="27.3" y="401.6" font-size="9.5" text-anchor="end" font-weight="normal" font-style="normal" fill="#222" >2.0</text>
<line x1="27.8" y1="447.2" x2="35.3" y2="447.2" stroke="#333" stroke-width="1"/>
<text x="27.3" y="450.6" font-size="9.5" text-anchor="end" font-weight="normal" font-style="normal" fill="#222" >1.0</text>
<line x1="27.8" y1="496.2" x2="35.3" y2="496.2" stroke="#333" stroke-width="1"/>
<text x="27.3" y="499.6" font-size="9.5" text-anchor="end" font-weight="normal" font-style="normal" fill="#222" >0.0</text>
<line x1="42.5" y1="496.2" x2="42.5" y2="500.2" stroke="#333" stroke-width="1"/>
<text x="42.5" y="508.7" font-size="9.5" text-anchor="middle" font-weight="normal" font-style="normal" fill="#222" >0.0</text>
<line x1="84.25" y1="496.2" x2="84.25" y2="500.2" stroke="#333" stroke-width="1"/>
<text x="84.25" y="508.7" font-size="9.5" text-anchor="middle" font-weight="normal" font-style="normal" fill="#222" >0.5</text>
<line x1="126" y1="496.2" x2="126" y2="500.2" stroke="#333" stroke-width="1"/>
<text x="126" y="508.7" font-size="9.5" text-anchor="middle" font-weight="normal" font-style="normal" fill="#222" >1.0</text>
<line x1="167.75" y1="496.2" x2="167.75" y2="500.2" stroke="#333" stroke-width="1"/>
<text x="167.75" y="508.7" font-size="9.5" text-anchor="middle" font-weight="normal" font-style="normal" fill="#222" >1.5</text>
<line x1="209.5" y1="496.2" x2="209.5" y2="500.2" stroke="#333" stroke-width="1"/>
<text x="209.5" y="508.7" font-size="9.5" text-anchor="middle" font-weight="normal" font-style="normal" fill="#222" >2.0</text>
<rect x="123" y="394.8" width="92.4" height="65.5" fill="#fff" stroke="#8a8484" stroke-width="1.2"/>
<rect x="130.7" y="407" width="19" height="18.3" fill="#e2dcf8"/>
<rect x="129" y="414.3" width="22" height="3.2" fill="#8070dc"/>
<rect x="130.7" y="432.6" width="19" height="17.4" fill="#ecc8c8"/>
<rect x="129" y="439.2" width="22" height="3.2" fill="#a82828"/>
<text x="181.4" y="418.4" font-size="7.3" text-anchor="middle" font-weight="normal" font-style="normal" fill="#222" >Anterior region</text>
<text x="181.4" y="443.9" font-size="7.3" text-anchor="middle" font-weight="normal" font-style="normal" fill="#222" >Posterior region</text>
<path d="M113.8,459 L113.8,455 M113.8,459 L117.6,457.76 M113.8,459 L116.15,462.24 M113.8,459 L111.45,462.24 M113.8,459 L110,457.76 " stroke="#111" stroke-width="1.9" stroke-linecap="butt"/>
<line x1="442" y1="390" x2="442" y2="496.2" stroke="#eeeeee" stroke-width="1"/>
<path d="M269.39,473.17 C272.2,470.07 279.92,460.51 286.23,454.55 C292.55,448.59 302.37,439.85 307.28,437.4 C312.19,434.95 311.49,437.15 315.7,439.85 C319.91,442.54 326.93,449.49 332.54,453.57 C338.15,457.65 345.17,462.06 349.38,464.35 C353.59,466.64 353.59,465.66 357.8,467.29 C362.01,468.92 369.03,471.45 374.64,474.15 C380.25,476.84 385.87,481.09 391.48,483.46 C397.09,485.83 402.71,487.46 408.32,488.36 C413.93,489.26 419.55,488.36 425.16,488.85 C430.77,489.34 439.19,490.89 442,491.3 L442,495.22 C439.19,494.97 430.77,493.91 425.16,493.75 C419.55,493.59 413.93,494.65 408.32,494.24 C402.71,493.83 397.09,493.01 391.48,491.3 C385.87,489.59 380.25,485.99 374.64,483.95 C369.03,481.91 362.01,480.19 357.8,479.05 C353.59,477.91 353.59,478.56 349.38,477.09 C345.17,475.62 338.15,472.84 332.54,470.23 C326.93,467.62 319.91,462.96 315.7,461.41 C311.49,459.86 312.19,459.61 307.28,460.92 C302.37,462.23 292.55,465.57 286.23,469.25 C279.92,472.93 272.2,480.68 269.39,482.97 Z" fill="#cf9090" fill-opacity="0.55"/>
<path d="M269.39,477.58 C272.9,474.48 283.42,463.78 290.44,458.96 C297.46,454.14 305.88,450.22 311.49,448.67 C317.1,447.12 319.21,448.26 324.12,449.65 C329.03,451.04 335.35,454.55 340.96,457 C346.57,459.45 352.19,461.57 357.8,464.35 C363.41,467.13 369.03,470.88 374.64,473.66 C380.25,476.44 385.87,479.7 391.48,481.01 C397.09,482.32 402.71,481.42 408.32,481.5 C413.93,481.58 419.55,480.68 425.16,481.5 C430.77,482.32 439.19,485.58 442,486.4 L442,494.24 C439.19,493.75 430.77,491.79 425.16,491.3 C419.55,490.81 413.93,491.55 408.32,491.3 C402.71,491.06 397.09,490.97 391.48,489.83 C385.87,488.69 380.25,486.56 374.64,484.44 C369.03,482.32 363.41,479.21 357.8,477.09 C352.19,474.97 346.57,473.5 340.96,471.7 C335.35,469.9 329.03,467.37 324.12,466.31 C319.21,465.25 317.1,464.27 311.49,465.33 C305.88,466.39 297.46,469.33 290.44,472.68 C283.42,476.03 272.9,483.3 269.39,485.42 Z" fill="#c8c0f2" fill-opacity="0.6"/>
<path d="M269.39,478.07 C272.2,475.38 279.92,466.72 286.23,461.9 C292.55,457.08 302.37,451.04 307.28,449.16 C312.19,447.28 311.49,448.51 315.7,450.63 C319.91,452.75 326.93,458.55 332.54,461.9 C338.15,465.25 345.17,468.84 349.38,470.72 C353.59,472.6 353.59,471.78 357.8,473.17 C362.01,474.56 369.03,476.68 374.64,479.05 C380.25,481.42 385.87,485.34 391.48,487.38 C397.09,489.42 402.71,490.65 408.32,491.3 C413.93,491.95 419.55,490.97 425.16,491.3 C430.77,491.63 439.19,492.93 442,493.26" fill="none" stroke="#a82828" stroke-width="1.1"/>
<path d="M269.39,481.5 C272.9,478.89 283.42,469.9 290.44,465.82 C297.46,461.74 305.88,458.31 311.49,457 C317.1,455.69 319.21,456.75 324.12,457.98 C329.03,459.21 335.35,462.23 340.96,464.35 C346.57,466.47 352.19,468.27 357.8,470.72 C363.41,473.17 369.03,476.6 374.64,479.05 C380.25,481.5 385.87,484.2 391.48,485.42 C397.09,486.64 402.71,486.24 408.32,486.4 C413.93,486.56 419.55,485.75 425.16,486.4 C430.77,487.05 439.19,489.67 442,490.32" fill="none" stroke="#7a6ad8" stroke-width="1.1"/>
<line x1="265.8" y1="390" x2="265.8" y2="503" stroke="#333" stroke-width="1.1"/>
<line x1="258.3" y1="496.2" x2="443" y2="496.2" stroke="#333" stroke-width="1.1"/>
<line x1="258.3" y1="398.2" x2="265.8" y2="398.2" stroke="#333" stroke-width="1"/>
<text x="257.8" y="401.6" font-size="9.5" text-anchor="end" font-weight="normal" font-style="normal" fill="#222" >2.0</text>
<line x1="258.3" y1="447.2" x2="265.8" y2="447.2" stroke="#333" stroke-width="1"/>
<text x="257.8" y="450.6" font-size="9.5" text-anchor="end" font-weight="normal" font-style="normal" fill="#222" >1.0</text>
<line x1="258.3" y1="496.2" x2="265.8" y2="496.2" stroke="#333" stroke-width="1"/>
<text x="257.8" y="499.6" font-size="9.5" text-anchor="end" font-weight="normal" font-style="normal" fill="#222" >0.0</text>
<line x1="273.6" y1="496.2" x2="273.6" y2="500.2" stroke="#333" stroke-width="1"/>
<text x="273.6" y="508.7" font-size="9.5" text-anchor="middle" font-weight="normal" font-style="normal" fill="#222" >0.0</text>
<line x1="315.7" y1="496.2" x2="315.7" y2="500.2" stroke="#333" stroke-width="1"/>
<text x="315.7" y="508.7" font-size="9.5" text-anchor="middle" font-weight="normal" font-style="normal" fill="#222" >0.5</text>
<line x1="357.8" y1="496.2" x2="357.8" y2="500.2" stroke="#333" stroke-width="1"/>
<text x="357.8" y="508.7" font-size="9.5" text-anchor="middle" font-weight="normal" font-style="normal" fill="#222" >1.0</text>
<line x1="399.9" y1="496.2" x2="399.9" y2="500.2" stroke="#333" stroke-width="1"/>
<text x="399.9" y="508.7" font-size="9.5" text-anchor="middle" font-weight="normal" font-style="normal" fill="#222" >1.5</text>
<line x1="442" y1="496.2" x2="442" y2="500.2" stroke="#333" stroke-width="1"/>
<text x="442" y="508.7" font-size="9.5" text-anchor="middle" font-weight="normal" font-style="normal" fill="#222" >2.0</text>
<line x1="668.2" y1="390" x2="668.2" y2="496.2" stroke="#eeeeee" stroke-width="1"/>
<path d="M496.82,469.74 C499.61,463.94 508.66,446.06 513.54,434.95 C518.42,423.84 522.6,407.02 526.08,403.1 C529.56,399.18 530.96,405.47 534.44,411.43 C537.92,417.39 542.8,432.5 546.98,438.87 C551.16,445.24 555.34,445 559.52,449.65 C563.7,454.3 567.88,461.49 572.06,466.8 C576.24,472.11 581.12,477.42 584.6,481.5 C588.08,485.58 588.78,489.42 592.96,491.3 C597.14,493.18 604.11,492.2 609.68,492.77 C615.25,493.34 620.83,494.48 626.4,494.73 C631.97,494.97 636.85,494.16 643.12,494.24 C649.39,494.32 660.54,495.06 664.02,495.22 L664.02,496.2 C660.54,496.2 649.39,496.2 643.12,496.2 C636.85,496.2 631.97,496.2 626.4,496.2 C620.83,496.2 615.25,496.28 609.68,496.2 C604.11,496.12 597.14,496.69 592.96,495.71 C588.78,494.73 588.08,493.1 584.6,490.32 C581.12,487.54 576.24,482.81 572.06,479.05 C567.88,475.29 563.7,471.05 559.52,467.78 C555.34,464.51 551.16,463.29 546.98,459.45 C542.8,455.61 537.92,447.85 534.44,444.75 C530.96,441.65 529.56,438.79 526.08,440.83 C522.6,442.87 518.42,450.22 513.54,457 C508.66,463.78 499.61,477.42 496.82,481.5 Z" fill="#cf9090" fill-opacity="0.55"/>
<path d="M496.82,474.15 C499.61,470.31 507.55,458.23 513.54,451.12 C519.53,444.01 527.89,433.81 532.77,431.52 C537.64,429.23 538.34,433.72 542.8,437.4 C547.26,441.07 553.95,448.26 559.52,453.57 C565.09,458.88 572.06,465.57 576.24,469.25 C580.42,472.93 580.42,473.74 584.6,475.62 C588.78,477.5 595.05,479.7 601.32,480.52 C607.59,481.34 616.65,479.78 622.22,480.52 C627.79,481.25 627.79,483.13 634.76,484.93 C641.73,486.73 659.14,490.24 664.02,491.3 L664.02,496.2 C659.14,495.63 641.73,493.75 634.76,492.77 C627.79,491.79 627.79,490.73 622.22,490.32 C616.65,489.91 607.59,490.81 601.32,490.32 C595.05,489.83 588.78,488.77 584.6,487.38 C580.42,485.99 580.42,484.85 576.24,481.99 C572.06,479.13 565.09,474.4 559.52,470.23 C553.95,466.06 547.26,459.86 542.8,457 C538.34,454.14 537.64,451.28 532.77,453.08 C527.89,454.88 519.53,462.63 513.54,467.78 C507.55,472.92 499.61,481.25 496.82,483.95 Z" fill="#c8c0f2" fill-opacity="0.6"/>
<path d="M496.82,475.62 C499.61,470.88 508.66,455.86 513.54,447.2 C518.42,438.54 522.6,426.54 526.08,423.68 C529.56,420.82 530.96,425.72 534.44,430.05 C537.92,434.38 542.8,444.34 546.98,449.65 C551.16,454.96 555.34,457.82 559.52,461.9 C563.7,465.98 567.88,470.07 572.06,474.15 C576.24,478.23 581.12,483.13 584.6,486.4 C588.08,489.67 588.78,492.36 592.96,493.75 C597.14,495.14 604.11,494.32 609.68,494.73 C615.25,495.14 620.83,496.04 626.4,496.2 C631.97,496.36 636.85,495.71 643.12,495.71 C649.39,495.71 660.54,496.12 664.02,496.2" fill="none" stroke="#a82828" stroke-width="1.1"/>
<path d="M496.82,479.05 C499.61,475.78 507.55,465.57 513.54,459.45 C519.53,453.32 527.89,444.34 532.77,442.3 C537.64,440.26 538.34,443.93 542.8,447.2 C547.26,450.47 553.95,457.16 559.52,461.9 C565.09,466.64 572.06,472.35 576.24,475.62 C580.42,478.89 580.42,479.87 584.6,481.5 C588.78,483.13 595.05,484.77 601.32,485.42 C607.59,486.07 616.65,484.85 622.22,485.42 C627.79,485.99 627.79,487.46 634.76,488.85 C641.73,490.24 659.14,492.93 664.02,493.75" fill="none" stroke="#7a6ad8" stroke-width="1.1"/>
<line x1="492.3" y1="390" x2="492.3" y2="503" stroke="#333" stroke-width="1.1"/>
<line x1="484.8" y1="496.2" x2="669.2" y2="496.2" stroke="#333" stroke-width="1.1"/>
<line x1="484.8" y1="398.2" x2="492.3" y2="398.2" stroke="#333" stroke-width="1"/>
<text x="484.3" y="401.6" font-size="9.5" text-anchor="end" font-weight="normal" font-style="normal" fill="#222" >2.0</text>
<line x1="484.8" y1="447.2" x2="492.3" y2="447.2" stroke="#333" stroke-width="1"/>
<text x="484.3" y="450.6" font-size="9.5" text-anchor="end" font-weight="normal" font-style="normal" fill="#222" >1.0</text>
<line x1="484.8" y1="496.2" x2="492.3" y2="496.2" stroke="#333" stroke-width="1"/>
<text x="484.3" y="499.6" font-size="9.5" text-anchor="end" font-weight="normal" font-style="normal" fill="#222" >0.0</text>
<line x1="501" y1="496.2" x2="501" y2="500.2" stroke="#333" stroke-width="1"/>
<text x="501" y="508.7" font-size="9.5" text-anchor="middle" font-weight="normal" font-style="normal" fill="#222" >0.0</text>
<line x1="542.8" y1="496.2" x2="542.8" y2="500.2" stroke="#333" stroke-width="1"/>
<text x="542.8" y="508.7" font-size="9.5" text-anchor="middle" font-weight="normal" font-style="normal" fill="#222" >0.5</text>
<line x1="584.6" y1="496.2" x2="584.6" y2="500.2" stroke="#333" stroke-width="1"/>
<text x="584.6" y="508.7" font-size="9.5" text-anchor="middle" font-weight="normal" font-style="normal" fill="#222" >1.0</text>
<line x1="626.4" y1="496.2" x2="626.4" y2="500.2" stroke="#333" stroke-width="1"/>
<text x="626.4" y="508.7" font-size="9.5" text-anchor="middle" font-weight="normal" font-style="normal" fill="#222" >1.5</text>
<line x1="668.2" y1="496.2" x2="668.2" y2="500.2" stroke="#333" stroke-width="1"/>
<text x="668.2" y="508.7" font-size="9.5" text-anchor="middle" font-weight="normal" font-style="normal" fill="#222" >2.0</text>
<clipPath id="cpE"><rect x="62" y="541.5" width="165" height="82.7"/></clipPath>
<rect x="62" y="541.5" width="165" height="82.7" fill="#f3eef5"/>
<g clip-path="url(#cpE)">
<path d="M211,624.7 L211,624.2 L210.89,615.78 L210.55,610.41 L209.99,605.83 L209.2,601.72 L208.19,597.95 L206.96,594.47 L205.5,591.23 L203.83,588.21 L201.92,585.4 L199.8,582.78 L197.46,580.35 L194.89,578.11 L192.09,576.04 L189.07,574.16 L185.81,572.45 L182.31,570.92 L178.55,569.58 L174.52,568.41 L170.19,567.42 L165.5,566.6 L160.39,565.97 L154.68,565.52 L148,565.25 L137.52,565.16 L133.31,565.29 L129.13,565.67 L124.98,566.29 L120.88,567.17 L116.85,568.29 L112.92,569.65 L109.08,571.25 L105.37,573.07 L101.8,575.11 L98.38,577.36 L95.13,579.81 L92.06,582.45 L89.18,585.27 L86.51,588.26 L84.06,591.4 L81.84,594.68 L79.86,598.09 L78.12,601.61 L76.64,605.22 L75.42,608.92 L74.46,612.68 L73.78,616.49 L73.36,620.34 L73.22,624.2 L73.22,624.7 Z" fill="#ddd0e3"/>
<path d="M188.45,624.7 L188.45,624.2 L188.35,619.94 L188.05,616.21 L187.55,612.69 L186.85,609.32 L185.95,606.08 L184.86,602.97 L183.58,599.98 L182.11,597.13 L180.46,594.4 L178.63,591.82 L176.63,589.39 L174.46,587.1 L172.14,584.97 L169.66,583.01 L167.03,581.21 L164.25,579.59 L161.34,578.15 L158.3,576.89 L155.13,575.82 L151.84,574.94 L148.4,574.25 L144.82,573.76 L141.02,573.46 L136.69,573.36 L133.3,573.47 L129.93,573.79 L126.59,574.34 L123.29,575.09 L120.04,576.06 L116.87,577.23 L113.79,578.6 L110.8,580.17 L107.92,581.93 L105.17,583.87 L102.55,585.98 L100.08,588.25 L97.76,590.68 L95.61,593.25 L93.64,595.95 L91.85,598.78 L90.25,601.71 L88.86,604.74 L87.66,607.86 L86.68,611.04 L85.91,614.28 L85.36,617.56 L85.03,620.87 L84.91,624.2 L84.91,624.7 Z" fill="#b68ec2"/>
<path d="M179.27,624.7 L179.27,624.2 L179.18,621.3 L178.9,618.42 L178.44,615.56 L177.79,612.74 L176.97,609.97 L175.96,607.25 L174.79,604.62 L173.45,602.06 L171.95,599.6 L170.3,597.24 L168.49,595 L166.55,592.89 L164.48,590.91 L162.28,589.07 L159.97,587.38 L157.56,585.85 L155.05,584.49 L152.47,583.29 L149.81,582.27 L147.09,581.43 L144.32,580.77 L141.52,580.3 L138.69,580.01 L135.85,579.92 L132.96,580.01 L130.07,580.3 L127.22,580.77 L124.4,581.43 L121.62,582.27 L118.91,583.29 L116.28,584.49 L113.72,585.85 L111.26,587.38 L108.91,589.07 L106.67,590.91 L104.56,592.89 L102.58,595 L100.74,597.24 L99.05,599.6 L97.52,602.06 L96.16,604.62 L94.96,607.25 L93.94,609.97 L93.1,612.74 L92.45,615.56 L91.97,618.42 L91.69,621.3 L91.59,624.2 L91.59,624.7 Z" fill="#74207f"/>
<path d="M174.26,624.7 L174.26,624.2 L174.18,621.63 L173.93,619.06 L173.52,616.52 L172.95,614.01 L172.22,611.55 L171.34,609.14 L170.3,606.79 L169.11,604.52 L167.79,602.33 L166.32,600.24 L164.73,598.25 L163.01,596.37 L161.18,594.61 L159.23,592.97 L157.19,591.47 L155.06,590.11 L152.84,588.9 L150.55,587.84 L148.2,586.93 L145.79,586.18 L143.34,585.6 L140.86,585.18 L138.36,584.92 L135.85,584.84 L133.34,584.92 L130.84,585.18 L128.36,585.6 L125.91,586.18 L123.5,586.93 L121.15,587.84 L118.86,588.9 L116.65,590.11 L114.51,591.47 L112.47,592.97 L110.52,594.61 L108.69,596.37 L106.97,598.25 L105.38,600.24 L103.91,602.33 L102.59,604.52 L101.4,606.79 L100.36,609.14 L99.48,611.55 L98.75,614.01 L98.18,616.52 L97.77,619.06 L97.52,621.63 L97.44,624.2 L97.44,624.7 Z" fill="#9a4a8e"/>
<path d="M168.41,624.7 L168.41,624.2 L168.35,621.89 L168.14,619.6 L167.81,617.32 L167.33,615.07 L166.73,612.87 L166,610.71 L165.14,608.6 L164.16,606.57 L163.07,604.61 L161.86,602.74 L160.54,600.95 L159.12,599.27 L157.61,597.69 L156,596.23 L154.31,594.88 L152.55,593.66 L150.72,592.58 L148.83,591.62 L146.88,590.81 L144.9,590.14 L142.88,589.62 L140.83,589.24 L138.76,589.02 L136.69,588.94 L134.56,589.02 L132.43,589.24 L130.33,589.62 L128.26,590.14 L126.22,590.81 L124.22,591.62 L122.28,592.58 L120.4,593.66 L118.59,594.88 L116.86,596.23 L115.21,597.69 L113.66,599.27 L112.2,600.95 L110.85,602.74 L109.61,604.61 L108.48,606.57 L107.48,608.6 L106.6,610.71 L105.85,612.87 L105.23,615.07 L104.75,617.32 L104.4,619.6 L104.19,621.89 L104.12,624.2 L104.12,624.7 Z" fill="#b87090"/>
<path d="M102.45,624.2 C106.62,614.36 123.33,607.8 144.2,622.56 L144.2,625.2 Z" fill="#9a4a8e"/>
<path d="M126.67,601.24 C127.22,598.92 132.93,594.54 137.52,593.86 C142.11,593.18 150.46,594.27 154.22,597.14 C157.98,600.01 159.51,606.57 160.06,611.08 C160.62,615.59 159.37,622.01 157.56,624.2 C155.75,626.39 151.44,625.84 149.21,624.2 C146.98,622.56 146.7,617.09 144.2,614.36 C141.69,611.63 137.1,609.99 134.18,607.8 C131.26,605.61 126.11,603.56 126.67,601.24 Z" fill="#d6a27e"/>
<path d="M135.85,624.7 L135.85,624.2 L135.83,623.77 L135.78,623.34 L135.69,622.92 L135.57,622.5 L135.41,622.09 L135.21,621.69 L134.99,621.3 L134.73,620.92 L134.44,620.56 L134.12,620.21 L133.78,619.87 L133.4,619.56 L133.01,619.27 L132.58,619 L132.14,618.75 L131.68,618.52 L131.19,618.32 L130.7,618.14 L130.18,617.99 L129.66,617.86 L129.13,617.77 L128.59,617.7 L128.05,617.65 L127.5,617.64 L126.95,617.65 L126.41,617.7 L125.87,617.77 L125.34,617.86 L124.82,617.99 L124.3,618.14 L123.81,618.32 L123.33,618.52 L122.86,618.75 L122.42,619 L121.99,619.27 L121.6,619.56 L121.22,619.87 L120.88,620.21 L120.56,620.56 L120.27,620.92 L120.01,621.3 L119.79,621.69 L119.59,622.09 L119.43,622.5 L119.31,622.92 L119.22,623.34 L119.17,623.77 L119.15,624.2 L119.15,624.7 Z" fill="#7a2a80"/>
</g>
<line x1="62" y1="540.5" x2="62" y2="624.7" stroke="#333" stroke-width="1.2"/>
<line x1="58" y1="624.2" x2="226.5" y2="624.2" stroke="#333" stroke-width="1.3"/>
<line x1="58" y1="542.2" x2="62" y2="542.2" stroke="#333" stroke-width="1"/>
<text x="58.2" y="545.6" font-size="9.5" text-anchor="end" font-weight="normal" font-style="normal" fill="#222" >1.0</text>
<line x1="58" y1="583.2" x2="62" y2="583.2" stroke="#333" stroke-width="1"/>
<text x="58.2" y="586.6" font-size="9.5" text-anchor="end" font-weight="normal" font-style="normal" fill="#222" >0.5</text>
<line x1="58" y1="624.2" x2="62" y2="624.2" stroke="#333" stroke-width="1"/>
<text x="58.2" y="627.6" font-size="9.5" text-anchor="end" font-weight="normal" font-style="normal" fill="#222" >0.0</text>
<line x1="85.75" y1="624.2" x2="85.75" y2="627.2" stroke="#333" stroke-width="1"/>
<text x="83.75" y="637.2" font-size="9.5" text-anchor="middle" font-weight="normal" font-style="normal" fill="#222" >-0.5</text>
<line x1="127.5" y1="624.2" x2="127.5" y2="627.2" stroke="#333" stroke-width="1"/>
<text x="127.5" y="637.2" font-size="9.5" text-anchor="middle" font-weight="normal" font-style="normal" fill="#222" >0.0</text>
<line x1="169.25" y1="624.2" x2="169.25" y2="627.2" stroke="#333" stroke-width="1"/>
<text x="169.25" y="637.2" font-size="9.5" text-anchor="middle" font-weight="normal" font-style="normal" fill="#222" >0.5</text>
<line x1="211" y1="624.2" x2="211" y2="627.2" stroke="#333" stroke-width="1"/>
<text x="211" y="637.2" font-size="9.5" text-anchor="middle" font-weight="normal" font-style="normal" fill="#222" >1.0</text>
<text x="65" y="551.5" font-size="11" text-anchor="start" font-weight="bold" font-style="normal" fill="#111" >E</text>
<text x="224" y="551" font-size="10" text-anchor="end" font-weight="normal" font-style="normal" fill="#222" >nc14 active</text>
<text x="224" y="562" font-size="10" text-anchor="end" font-weight="normal" font-style="normal" fill="#222" >domain (1+3)</text>
<path d="M127.5,624.2 L145.87,604.52 L155.06,624.2" fill="none" stroke="#111" stroke-width="1"/>
<circle cx="145.87" cy="604.52" r="3.6" fill="#2a8a22"/>
<circle cx="127.5" cy="624.2" r="3.6" fill="#0010ee"/>
<circle cx="155.06" cy="624.2" r="3.6" fill="#ee3020"/>
<defs><linearGradient id="sbE" x1="0" x2="1" y1="0" y2="0"><stop offset="0" stop-color="#b0b0b0"/><stop offset="0.3" stop-color="#2e2e2e"/><stop offset="0.6" stop-color="#a8a8a8"/><stop offset="0.8" stop-color="#dcdcdc"/><stop offset="1" stop-color="#f2f2f2"/></linearGradient></defs>
<path d="M124,641 Q124,639.3 154.81,639.3 Q226.7,639.3 226.7,641 Q226.7,642.7 154.81,642.7 Q124,642.7 124,641 Z" fill="url(#sbE)"/>
<clipPath id="cpF"><rect x="260.5" y="542.5" width="165.5" height="82.9"/></clipPath>
<rect x="260.5" y="542.5" width="165.5" height="82.9" fill="#f3eef5"/>
<g clip-path="url(#cpF)">
<path d="M423.59,625.9 L423.59,625.4 L423.42,620.04 L422.88,614.7 L421.99,609.4 L420.75,604.18 L419.16,599.04 L417.24,594.02 L414.98,589.13 L412.41,584.4 L409.52,579.84 L406.34,575.48 L402.87,571.33 L399.14,567.42 L395.15,563.75 L390.93,560.35 L386.49,557.22 L381.84,554.39 L377.03,551.86 L372.05,549.64 L366.94,547.75 L361.71,546.19 L356.39,544.98 L350.99,544.1 L345.56,543.58 L340.09,543.4 L334.63,543.58 L329.2,544.1 L323.8,544.98 L318.48,546.19 L313.25,547.75 L308.14,549.64 L303.16,551.86 L298.35,554.39 L293.7,557.22 L289.26,560.35 L285.04,563.75 L281.05,567.42 L277.32,571.33 L273.85,575.48 L270.67,579.84 L267.78,584.4 L265.21,589.13 L262.95,594.02 L261.03,599.04 L259.44,604.18 L258.2,609.4 L257.31,614.7 L256.77,620.04 L256.59,625.4 L256.59,625.9 Z" fill="#ddd0e3"/>
<path d="M386.02,625.9 L386.02,625.4 L385.93,619.91 L385.66,615.63 L385.22,611.75 L384.59,608.12 L383.79,604.7 L382.82,601.46 L381.68,598.39 L380.36,595.49 L378.88,592.74 L377.23,590.15 L375.42,587.73 L373.45,585.47 L371.33,583.38 L369.05,581.45 L366.62,579.7 L364.04,578.12 L361.31,576.72 L358.42,575.5 L355.38,574.47 L352.16,573.62 L348.75,572.95 L345.1,572.48 L341.08,572.2 L335.92,572.1 L332.42,572.21 L328.94,572.56 L325.49,573.12 L322.09,573.92 L318.74,574.93 L315.47,576.16 L312.28,577.6 L309.2,579.24 L306.23,581.08 L303.39,583.11 L300.68,585.33 L298.13,587.71 L295.74,590.26 L293.52,592.95 L291.49,595.79 L289.64,598.75 L287.99,601.83 L286.55,605 L285.32,608.27 L284.3,611.6 L283.51,615 L282.94,618.44 L282.59,621.91 L282.48,625.4 L282.48,625.9 Z" fill="#b68ec2"/>
<path d="M365.14,625.9 L365.14,625.4 L365.08,621.73 L364.9,618.7 L364.6,615.9 L364.18,613.25 L363.64,610.73 L362.98,608.33 L362.2,606.04 L361.32,603.86 L360.32,601.79 L359.21,599.84 L357.99,598 L356.67,596.28 L355.25,594.69 L353.73,593.22 L352.11,591.88 L350.4,590.67 L348.6,589.59 L346.71,588.66 L344.72,587.86 L342.63,587.21 L340.44,586.7 L338.12,586.33 L335.62,586.11 L332.58,586.04 L330.4,586.12 L328.22,586.38 L326.06,586.8 L323.94,587.38 L321.84,588.13 L319.8,589.04 L317.81,590.1 L315.88,591.31 L314.02,592.67 L312.25,594.17 L310.56,595.81 L308.96,597.57 L307.47,599.45 L306.08,601.44 L304.81,603.53 L303.65,605.72 L302.62,607.99 L301.72,610.34 L300.95,612.75 L300.32,615.21 L299.82,617.72 L299.47,620.26 L299.25,622.83 L299.18,625.4 L299.18,625.9 Z" fill="#74207f"/>
<path d="M340.09,625.9 L340.09,625.4 L340.06,624.62 L339.97,623.85 L339.82,623.08 L339.61,622.32 L339.34,621.58 L339.01,620.85 L338.63,620.14 L338.19,619.45 L337.7,618.79 L337.16,618.16 L336.57,617.56 L335.94,616.99 L335.26,616.46 L334.54,615.97 L333.79,615.51 L333,615.1 L332.18,614.74 L331.33,614.42 L330.46,614.14 L329.57,613.92 L328.67,613.74 L327.75,613.61 L326.83,613.54 L325.9,613.51 L325.03,613.54 L324.16,613.61 L323.29,613.74 L322.44,613.92 L321.61,614.14 L320.79,614.42 L319.99,614.74 L319.22,615.1 L318.48,615.51 L317.77,615.97 L317.09,616.46 L316.45,616.99 L315.86,617.56 L315.3,618.16 L314.79,618.79 L314.33,619.45 L313.92,620.14 L313.56,620.85 L313.25,621.58 L313,622.32 L312.8,623.08 L312.65,623.85 L312.57,624.62 L312.54,625.4 L312.54,625.9 Z" fill="#c7a3cf"/>
</g>
<line x1="260.5" y1="541.5" x2="260.5" y2="625.9" stroke="#333" stroke-width="1.2"/>
<line x1="256.5" y1="625.4" x2="426" y2="625.4" stroke="#333" stroke-width="1.3"/>
<line x1="256.5" y1="543.4" x2="260.5" y2="543.4" stroke="#333" stroke-width="1"/>
<text x="256.7" y="546.8" font-size="9.5" text-anchor="end" font-weight="normal" font-style="normal" fill="#222" >1.0</text>
<line x1="256.5" y1="584.4" x2="260.5" y2="584.4" stroke="#333" stroke-width="1"/>
<text x="256.7" y="587.8" font-size="9.5" text-anchor="end" font-weight="normal" font-style="normal" fill="#222" >0.5</text>
<line x1="256.5" y1="625.4" x2="260.5" y2="625.4" stroke="#333" stroke-width="1"/>
<text x="256.7" y="628.8" font-size="9.5" text-anchor="end" font-weight="normal" font-style="normal" fill="#222" >0.0</text>
<line x1="284.15" y1="625.4" x2="284.15" y2="628.4" stroke="#333" stroke-width="1"/>
<text x="282.15" y="638.4" font-size="9.5" text-anchor="middle" font-weight="normal" font-style="normal" fill="#222" >-0.5</text>
<line x1="325.9" y1="625.4" x2="325.9" y2="628.4" stroke="#333" stroke-width="1"/>
<text x="325.9" y="638.4" font-size="9.5" text-anchor="middle" font-weight="normal" font-style="normal" fill="#222" >0.0</text>
<line x1="367.65" y1="625.4" x2="367.65" y2="628.4" stroke="#333" stroke-width="1"/>
<text x="367.65" y="638.4" font-size="9.5" text-anchor="middle" font-weight="normal" font-style="normal" fill="#222" >0.5</text>
<line x1="409.4" y1="625.4" x2="409.4" y2="628.4" stroke="#333" stroke-width="1"/>
<text x="409.4" y="638.4" font-size="9.5" text-anchor="middle" font-weight="normal" font-style="normal" fill="#222" >1.0</text>
<text x="263.5" y="552.5" font-size="11" text-anchor="start" font-weight="bold" font-style="normal" fill="#111" >F</text>
<text x="424" y="551.5" font-size="10" text-anchor="end" font-weight="normal" font-style="normal" fill="#222" >nc14 repressed</text>
<text x="424" y="562.5" font-size="10" text-anchor="end" font-weight="normal" font-style="normal" fill="#222" >domain (2+4)</text>
<path d="M325.9,625.4 L341.76,601.62 L355.12,625.4" fill="none" stroke="#111" stroke-width="1"/>
<circle cx="341.76" cy="601.62" r="3.6" fill="#2a8a22"/>
<circle cx="325.9" cy="625.4" r="3.6" fill="#0010ee"/>
<circle cx="355.12" cy="625.4" r="3.6" fill="#ee3020"/>
<defs><linearGradient id="sbF" x1="0" x2="1" y1="0" y2="0"><stop offset="0" stop-color="#c0c0c0"/><stop offset="0.3" stop-color="#505050"/><stop offset="0.6" stop-color="#a8a8a8"/><stop offset="0.8" stop-color="#dcdcdc"/><stop offset="1" stop-color="#f2f2f2"/></linearGradient></defs>
<path d="M323,640.3 Q323,638.6 353.9,638.6 Q426,638.6 426,640.3 Q426,642 353.9,642 Q323,642 323,640.3 Z" fill="url(#sbF)"/>
<clipPath id="cpG"><rect x="507.5" y="542.8" width="166.3" height="83.1"/></clipPath>
<rect x="507.5" y="542.8" width="166.3" height="83.1" fill="#e8e8ea"/>
<g clip-path="url(#cpG)">
<path d="M507,627 L507,571.5 C512,561 522,551 538.4,542.3 L645.5,542.3 C654,552 660,565 663,575 C667,590 670,605 671.2,627 Z" fill="#c7d0d8"/>
<path d="M646.18,626.4 L646.18,625.9 L646.06,621.36 L645.68,617.4 L645.06,613.65 L644.2,610.06 L643.09,606.61 L641.74,603.3 L640.16,600.12 L638.35,597.08 L636.31,594.18 L634.05,591.43 L631.58,588.84 L628.91,586.41 L626.03,584.14 L622.97,582.05 L619.73,580.14 L616.3,578.41 L612.71,576.88 L608.96,575.54 L605.05,574.4 L600.97,573.46 L596.74,572.73 L592.31,572.2 L587.63,571.89 L582.27,571.78 L578.09,571.9 L573.93,572.24 L569.8,572.82 L565.73,573.62 L561.73,574.65 L557.81,575.9 L554,577.36 L550.31,579.03 L546.76,580.9 L543.36,582.96 L540.13,585.21 L537.08,587.63 L534.22,590.22 L531.57,592.95 L529.13,595.83 L526.92,598.84 L524.95,601.96 L523.22,605.19 L521.75,608.5 L520.54,611.89 L519.59,615.34 L518.91,618.84 L518.5,622.36 L518.36,625.9 L518.36,626.4 Z" fill="#e6e6e8"/>
<path d="M632.9,626.4 L632.9,625.9 L632.8,623 L632.48,620.12 L631.97,617.26 L631.25,614.44 L630.32,611.67 L629.2,608.95 L627.89,606.32 L626.39,603.76 L624.72,601.3 L622.87,598.94 L620.85,596.7 L618.68,594.59 L616.36,592.61 L613.9,590.77 L611.32,589.08 L608.62,587.55 L605.82,586.19 L602.93,584.99 L599.95,583.97 L596.91,583.13 L593.82,582.47 L590.68,582 L587.52,581.71 L584.34,581.62 L581.17,581.71 L578.01,582 L574.87,582.47 L571.78,583.13 L568.74,583.97 L565.76,584.99 L562.87,586.19 L560.07,587.55 L557.37,589.08 L554.79,590.77 L552.33,592.61 L550.01,594.59 L547.84,596.7 L545.82,598.94 L543.97,601.3 L542.3,603.76 L540.8,606.32 L539.49,608.95 L538.37,611.67 L537.44,614.44 L536.72,617.26 L536.21,620.12 L535.89,623 L535.79,625.9 L535.79,626.4 Z" fill="#f2c6c6"/>
<path d="M621.28,626.4 L621.28,625.9 L621.2,623.38 L620.96,620.87 L620.55,618.38 L619.99,615.93 L619.28,613.51 L618.41,611.15 L617.39,608.85 L616.22,606.63 L614.92,604.49 L613.48,602.44 L611.91,600.49 L610.22,598.65 L608.42,596.92 L606.5,595.32 L604.5,593.86 L602.4,592.52 L600.22,591.33 L597.97,590.29 L595.65,589.41 L593.29,588.67 L590.88,588.1 L588.44,587.69 L585.98,587.44 L583.51,587.36 L581.05,587.44 L578.59,587.69 L576.15,588.1 L573.74,588.67 L571.38,589.41 L569.06,590.29 L566.81,591.33 L564.63,592.52 L562.53,593.86 L560.53,595.32 L558.61,596.92 L556.81,598.65 L555.12,600.49 L553.55,602.44 L552.11,604.49 L550.81,606.63 L549.64,608.85 L548.62,611.15 L547.75,613.51 L547.04,615.93 L546.48,618.38 L546.07,620.87 L545.83,623.38 L545.75,625.9 L545.75,626.4 Z" fill="#e48a88"/>
<path d="M561.02,605.97 C561.35,602.8 566.68,596.43 569.99,594 C573.29,591.57 576.7,591.71 580.86,591.38 C585.02,591.05 590.78,591.09 594.97,592.03 C599.16,592.98 603.1,594.3 606.01,597.04 C608.91,599.77 610.95,603.62 612.4,608.43 C613.85,613.24 614.34,621.62 614.72,625.9 C615.11,630.18 619.19,632.73 614.72,634.1 C610.25,635.47 592.38,635.47 587.91,634.1 C583.45,632.73 588.5,628.25 587.91,625.9 C587.33,623.55 585.99,621.57 584.43,620 C582.86,618.42 581.27,617.63 578.53,616.47 C575.8,615.31 570.91,614.78 567.99,613.03 C565.08,611.28 560.69,609.14 561.02,605.97 Z" fill="#d6514a"/>
<path d="M577.37,601.38 C577.95,599.73 583.4,597.76 586.67,597.28 C589.93,596.8 593.83,597.45 596.96,598.51 C600.09,599.58 603.64,601.07 605.43,603.68 C607.21,606.29 607.67,610.47 607.67,614.17 C607.67,617.88 605.8,622.58 605.43,625.9 C605.05,629.22 607,632.73 605.43,634.1 C603.85,635.47 597.54,635.47 595.96,634.1 C594.39,632.73 596.92,629.22 595.96,625.9 C595.01,622.58 592.37,617.29 590.24,614.17 C588.11,611.06 585.33,609.34 583.18,607.2 C581.04,605.07 576.79,603.04 577.37,601.38 Z" fill="#c33230"/>
</g>
<line x1="507.5" y1="541.8" x2="507.5" y2="626.4" stroke="#333" stroke-width="1.2"/>
<line x1="503.5" y1="625.9" x2="673.8" y2="625.9" stroke="#333" stroke-width="1.3"/>
<line x1="503.5" y1="543.9" x2="507.5" y2="543.9" stroke="#333" stroke-width="1"/>
<text x="503.7" y="547.3" font-size="9.5" text-anchor="end" font-weight="normal" font-style="normal" fill="#222" >1.0</text>
<line x1="503.5" y1="584.9" x2="507.5" y2="584.9" stroke="#333" stroke-width="1"/>
<text x="503.7" y="588.3" font-size="9.5" text-anchor="end" font-weight="normal" font-style="normal" fill="#222" >0.5</text>
<line x1="503.5" y1="625.9" x2="507.5" y2="625.9" stroke="#333" stroke-width="1"/>
<text x="503.7" y="629.3" font-size="9.5" text-anchor="end" font-weight="normal" font-style="normal" fill="#222" >0.0</text>
<line x1="533.3" y1="625.9" x2="533.3" y2="628.9" stroke="#333" stroke-width="1"/>
<text x="531.3" y="638.9" font-size="9.5" text-anchor="middle" font-weight="normal" font-style="normal" fill="#222" >-0.5</text>
<line x1="574.8" y1="625.9" x2="574.8" y2="628.9" stroke="#333" stroke-width="1"/>
<text x="574.8" y="638.9" font-size="9.5" text-anchor="middle" font-weight="normal" font-style="normal" fill="#222" >0.0</text>
<line x1="616.3" y1="625.9" x2="616.3" y2="628.9" stroke="#333" stroke-width="1"/>
<text x="616.3" y="638.9" font-size="9.5" text-anchor="middle" font-weight="normal" font-style="normal" fill="#222" >0.5</text>
<line x1="657.8" y1="625.9" x2="657.8" y2="628.9" stroke="#333" stroke-width="1"/>
<text x="657.8" y="638.9" font-size="9.5" text-anchor="middle" font-weight="normal" font-style="normal" fill="#222" >1.0</text>
<text x="510.5" y="552.8" font-size="11" text-anchor="start" font-weight="bold" font-style="normal" fill="#111" >G</text>
<text x="659.8" y="553" font-size="10.8" text-anchor="end" fill="#222">WT nc14: <tspan fill="#ee2020">active</tspan></text>
<text x="659.8" y="564.3" font-size="10.8" text-anchor="end" fill="#222">- <tspan fill="#2040ee">repressed</tspan></text>
<circle cx="667.5" cy="549.3" r="3.9" fill="none" stroke="#888" stroke-width="1.1"/>
<rect x="663.4" y="557.4" width="8.1" height="7.4" fill="none" stroke="#888" stroke-width="1.1"/>
<path d="M574.8,625.9 L589.99,602.37 L603.27,625.9" fill="none" stroke="#111" stroke-width="1" stroke-dasharray="2,1.2"/>
<path d="M574.8,625.9 L592.4,605.73 L602.19,625.9" fill="none" stroke="#111" stroke-width="1"/>
<circle cx="592.4" cy="605.73" r="3.6" fill="#2a8a22"/>
<circle cx="602.19" cy="625.9" r="3.6" fill="#f03a30" fill-opacity="0.7"/>
<rect x="571" y="622.1" width="7.6" height="7.6" fill="#3040f0" fill-opacity="0.9" stroke="#2020ee" stroke-width="0.8"/>
<rect x="586.29" y="598.57" width="7.4" height="7.6" fill="none" stroke="#2a9a22" stroke-width="1"/>
<rect x="599.47" y="622.3" width="7.6" height="7.4" fill="none" stroke="#f03030" stroke-width="1"/>
<defs><linearGradient id="dbG1" x1="0" x2="1" y1="0" y2="0"><stop offset="0" stop-color="#8a8a8a"/><stop offset="0.15" stop-color="#3a3a3a"/><stop offset="0.27" stop-color="#050505"/><stop offset="0.4" stop-color="#5a5a5a"/><stop offset="0.58" stop-color="#c4c4c4"/><stop offset="0.8" stop-color="#e8e8e8"/><stop offset="1" stop-color="#f4f4f4"/></linearGradient></defs>
<rect x="573.7" y="639.3" width="100.4" height="3.8" fill="url(#dbG1)" stroke="#c8c8c8" stroke-width="0.6"/>
<defs><linearGradient id="dbG2" x1="0" x2="1" y1="0" y2="0"><stop offset="0" stop-color="#9a9a9a"/><stop offset="0.16" stop-color="#505050"/><stop offset="0.3" stop-color="#707070"/><stop offset="0.5" stop-color="#b0b0b0"/><stop offset="0.7" stop-color="#dadada"/><stop offset="1" stop-color="#f0f0f0"/></linearGradient></defs>
<rect x="573.7" y="644.4" width="100.4" height="3.2" fill="url(#dbG2)" stroke="#c8c8c8" stroke-width="0.6"/>
<clipPath id="cpH"><rect x="62" y="740.2" width="165.5" height="83.6"/></clipPath>
<rect x="62" y="740.2" width="165.5" height="83.6" fill="#f3eef5"/>
<g clip-path="url(#cpH)">
<path d="M211.8,824.3 L211.8,823.8 L211.67,816.87 L211.29,811.48 L210.65,806.58 L209.77,802 L208.63,797.69 L207.24,793.6 L205.61,789.73 L203.73,786.06 L201.62,782.6 L199.27,779.34 L196.69,776.28 L193.89,773.43 L190.86,770.78 L187.61,768.36 L184.15,766.15 L180.47,764.16 L176.58,762.39 L172.47,760.85 L168.13,759.55 L163.55,758.47 L158.69,757.64 L153.49,757.04 L147.76,756.68 L140.4,756.56 L135.79,756.7 L131.19,757.14 L126.63,757.85 L122.14,758.85 L117.72,760.13 L113.4,761.68 L109.19,763.49 L105.12,765.57 L101.2,767.89 L97.45,770.45 L93.88,773.25 L90.51,776.25 L87.35,779.47 L84.42,782.87 L81.73,786.44 L79.29,790.18 L77.12,794.06 L75.21,798.07 L73.58,802.19 L72.24,806.4 L71.2,810.68 L70.44,815.02 L69.99,819.4 L69.84,823.8 L69.84,824.3 Z" fill="#ddd0e3"/>
<path d="M186.6,824.3 L186.6,823.8 L186.48,820.15 L186.14,816.52 L185.57,812.92 L184.77,809.37 L183.75,805.88 L182.51,802.46 L181.06,799.14 L179.4,795.92 L177.54,792.82 L175.49,789.86 L173.26,787.03 L170.85,784.37 L168.29,781.88 L165.57,779.56 L162.71,777.44 L159.72,775.51 L156.62,773.79 L153.41,772.28 L150.12,771 L146.75,769.94 L143.33,769.11 L139.86,768.52 L136.36,768.16 L132.84,768.04 L129.27,768.16 L125.71,768.52 L122.19,769.11 L118.71,769.94 L115.29,771 L111.95,772.28 L108.69,773.79 L105.54,775.51 L102.51,777.44 L99.6,779.56 L96.84,781.88 L94.23,784.37 L91.79,787.03 L89.52,789.86 L87.44,792.82 L85.56,795.92 L83.87,799.14 L82.4,802.46 L81.14,805.88 L80.1,809.37 L79.29,812.92 L78.71,816.52 L78.36,820.15 L78.24,823.8 L78.24,824.3 Z" fill="#b68ec2"/>
<path d="M178.2,824.3 L178.2,823.8 L178.1,820.74 L177.82,817.7 L177.34,814.68 L176.68,811.7 L175.84,808.78 L174.81,805.91 L173.61,803.13 L172.24,800.43 L170.7,797.83 L169,795.35 L167.15,792.98 L165.16,790.75 L163.03,788.66 L160.78,786.72 L158.41,784.94 L155.94,783.32 L153.37,781.88 L150.72,780.62 L147.99,779.54 L145.2,778.65 L142.37,777.96 L139.49,777.46 L136.59,777.16 L133.68,777.06 L130.82,777.16 L127.98,777.46 L125.16,777.96 L122.37,778.65 L119.64,779.54 L116.96,780.62 L114.36,781.88 L111.84,783.32 L109.41,784.94 L107.09,786.72 L104.88,788.66 L102.79,790.75 L100.84,792.98 L99.03,795.35 L97.36,797.83 L95.85,800.43 L94.5,803.13 L93.32,805.91 L92.32,808.78 L91.49,811.7 L90.84,814.68 L90.37,817.7 L90.09,820.74 L90,823.8 L90,824.3 Z" fill="#74207f"/>
<path d="M172.32,824.3 L172.32,823.8 L172.24,821.12 L172.01,818.45 L171.63,815.8 L171.09,813.19 L170.4,810.62 L169.57,808.11 L168.6,805.67 L167.48,803.3 L166.23,801.02 L164.86,798.84 L163.36,796.77 L161.74,794.81 L160.02,792.97 L158.19,791.27 L156.27,789.71 L154.26,788.29 L152.18,787.03 L150.02,785.92 L147.81,784.98 L145.55,784.2 L143.25,783.59 L140.91,783.15 L138.56,782.89 L136.2,782.8 L133.84,782.89 L131.49,783.15 L129.15,783.59 L126.85,784.2 L124.59,784.98 L122.38,785.92 L120.22,787.03 L118.14,788.29 L116.13,789.71 L114.21,791.27 L112.38,792.97 L110.66,794.81 L109.04,796.77 L107.54,798.84 L106.17,801.02 L104.92,803.3 L103.8,805.67 L102.83,808.11 L102,810.62 L101.31,813.19 L100.77,815.8 L100.39,818.45 L100.16,821.12 L100.08,823.8 L100.08,824.3 Z" fill="#9a4a8e"/>
<path d="M99.24,818.06 C99.94,816.28 106.94,811.16 111,809.04 C115.06,806.92 119.12,805.62 123.6,805.35 C128.08,805.08 134.24,805.83 137.88,807.4 C141.52,808.97 143.76,811.77 145.44,814.78 C147.12,817.79 149.22,823.66 147.96,825.44 C146.7,827.22 139.98,826.94 137.88,825.44 C135.78,823.94 137.04,818.47 135.36,816.42 C133.68,814.37 130.74,813.28 127.8,813.14 C124.86,813 121.22,814.51 117.72,815.6 C114.22,816.69 109.88,819.29 106.8,819.7 C103.72,820.11 98.54,819.84 99.24,818.06 Z" fill="#74207f"/>
<path d="M139.56,824.3 L139.56,823.8 L139.53,823.05 L139.46,822.3 L139.33,821.56 L139.16,820.83 L138.94,820.11 L138.66,819.41 L138.35,818.72 L137.98,818.06 L137.58,817.42 L137.13,816.81 L136.64,816.23 L136.12,815.68 L135.55,815.17 L134.96,814.69 L134.33,814.25 L133.68,813.86 L133,813.5 L132.3,813.19 L131.58,812.93 L130.84,812.71 L130.09,812.54 L129.33,812.42 L128.57,812.34 L127.8,812.32 L127.03,812.34 L126.27,812.42 L125.51,812.54 L124.76,812.71 L124.02,812.93 L123.3,813.19 L122.6,813.5 L121.92,813.86 L121.27,814.25 L120.64,814.69 L120.05,815.17 L119.48,815.68 L118.96,816.23 L118.47,816.81 L118.02,817.42 L117.62,818.06 L117.25,818.72 L116.94,819.41 L116.66,820.11 L116.44,820.83 L116.27,821.56 L116.14,822.3 L116.07,823.05 L116.04,823.8 L116.04,824.3 Z" fill="#c7a3cf"/>
<ellipse cx="144.6" cy="799.2" rx="5.5" ry="3" fill="#c98a8a" transform="rotate(20 144.6 799.2)"/>
</g>
<line x1="62" y1="739.5" x2="62" y2="824.3" stroke="#333" stroke-width="1.2"/>
<line x1="58" y1="823.8" x2="228" y2="823.8" stroke="#333" stroke-width="1.3"/>
<line x1="58" y1="741.8" x2="62" y2="741.8" stroke="#333" stroke-width="1"/>
<text x="58.2" y="745.2" font-size="9.5" text-anchor="end" font-weight="normal" font-style="normal" fill="#222" >1.0</text>
<line x1="58" y1="782.8" x2="62" y2="782.8" stroke="#333" stroke-width="1"/>
<text x="58.2" y="786.2" font-size="9.5" text-anchor="end" font-weight="normal" font-style="normal" fill="#222" >0.5</text>
<line x1="58" y1="823.8" x2="62" y2="823.8" stroke="#333" stroke-width="1"/>
<text x="58.2" y="827.2" font-size="9.5" text-anchor="end" font-weight="normal" font-style="normal" fill="#222" >0.0</text>
<line x1="85.8" y1="823.8" x2="85.8" y2="826.8" stroke="#333" stroke-width="1"/>
<text x="83.8" y="836.8" font-size="9.5" text-anchor="middle" font-weight="normal" font-style="normal" fill="#222" >-0.5</text>
<line x1="127.8" y1="823.8" x2="127.8" y2="826.8" stroke="#333" stroke-width="1"/>
<text x="127.8" y="836.8" font-size="9.5" text-anchor="middle" font-weight="normal" font-style="normal" fill="#222" >0.0</text>
<line x1="169.8" y1="823.8" x2="169.8" y2="826.8" stroke="#333" stroke-width="1"/>
<text x="169.8" y="836.8" font-size="9.5" text-anchor="middle" font-weight="normal" font-style="normal" fill="#222" >0.5</text>
<line x1="211.8" y1="823.8" x2="211.8" y2="826.8" stroke="#333" stroke-width="1"/>
<text x="211.8" y="836.8" font-size="9.5" text-anchor="middle" font-weight="normal" font-style="normal" fill="#222" >1.0</text>
<text x="65" y="750.5" font-size="11" text-anchor="start" font-weight="bold" font-style="normal" fill="#111" >H</text>
<text x="224.5" y="749.5" font-size="10.3" text-anchor="end" font-weight="normal" font-style="normal" fill="#222" >nc14 anterior</text>
<text x="224.5" y="760.5" font-size="10.3" text-anchor="end" font-weight="normal" font-style="normal" fill="#222" >(1+2)</text>
<path d="M127.8,823.8 L146.28,799.2 L158.88,823.8" fill="none" stroke="#111" stroke-width="1"/>
<circle cx="146.28" cy="799.2" r="3.6" fill="#2a8a22"/>
<circle cx="127.8" cy="823.8" r="3.6" fill="#0010ee"/>
<circle cx="158.88" cy="823.8" r="3.6" fill="#ee3020"/>
<defs><linearGradient id="sbH" x1="0" x2="1" y1="0" y2="0"><stop offset="0" stop-color="#c0c0c0"/><stop offset="0.38" stop-color="#686868"/><stop offset="0.68" stop-color="#a8a8a8"/><stop offset="0.88" stop-color="#dcdcdc"/><stop offset="1" stop-color="#f2f2f2"/></linearGradient></defs>
<path d="M124.4,844.4 Q124.4,842.7 163.84,842.7 Q228.2,842.7 228.2,844.4 Q228.2,846.1 163.84,846.1 Q124.4,846.1 124.4,844.4 Z" fill="url(#sbH)"/>
<clipPath id="cpI"><rect x="261" y="740" width="165" height="83.8"/></clipPath>
<rect x="261" y="740" width="165" height="83.8" fill="#f3eef5"/>
<g clip-path="url(#cpI)">
<path d="M423.84,824.3 L423.84,823.8 L423.7,816.22 L423.27,809.98 L422.55,804.2 L421.55,798.74 L420.27,793.54 L418.7,788.59 L416.87,783.86 L414.76,779.37 L412.39,775.11 L409.77,771.08 L406.88,767.29 L403.76,763.74 L400.39,760.45 L396.78,757.42 L392.95,754.66 L388.9,752.16 L384.62,749.95 L380.13,748.02 L375.42,746.38 L370.48,745.03 L365.29,743.98 L359.79,743.22 L353.86,742.77 L346.65,742.62 L341.49,742.79 L336.36,743.31 L331.27,744.18 L326.24,745.39 L321.3,746.93 L316.48,748.8 L311.78,750.99 L307.23,753.5 L302.84,756.3 L298.65,759.4 L294.66,762.77 L290.89,766.4 L287.37,770.27 L284.09,774.38 L281.09,778.7 L278.36,783.21 L275.93,787.9 L273.8,792.73 L271.98,797.71 L270.49,802.79 L269.32,807.96 L268.47,813.2 L267.97,818.49 L267.8,823.8 L267.8,824.3 Z" fill="#ddd0e3"/>
<path d="M402.26,824.3 L402.26,823.8 L402.16,817.36 L401.88,812.84 L401.4,808.87 L400.73,805.25 L399.87,801.88 L398.83,798.73 L397.59,795.78 L396.17,793.01 L394.57,790.41 L392.78,787.98 L390.81,785.71 L388.66,783.6 L386.33,781.66 L383.82,779.88 L381.13,778.27 L378.25,776.82 L375.18,775.53 L371.91,774.42 L368.43,773.48 L364.7,772.7 L360.69,772.1 L356.29,771.67 L351.29,771.41 L344.16,771.32 L340.36,771.43 L336.58,771.77 L332.83,772.33 L329.12,773.11 L325.48,774.11 L321.93,775.31 L318.46,776.73 L315.11,778.35 L311.88,780.16 L308.79,782.16 L305.85,784.34 L303.08,786.69 L300.48,789.2 L298.07,791.85 L295.85,794.64 L293.84,797.56 L292.05,800.59 L290.48,803.72 L289.14,806.93 L288.04,810.22 L287.18,813.56 L286.56,816.95 L286.18,820.37 L286.06,823.8 L286.06,824.3 Z" fill="#b68ec2"/>
<path d="M374.04,824.3 L374.04,823.8 L373.97,819.58 L373.76,816.29 L373.41,813.3 L372.93,810.51 L372.31,807.88 L371.55,805.39 L370.66,803.03 L369.63,800.79 L368.48,798.68 L367.2,796.69 L365.79,794.82 L364.25,793.08 L362.6,791.47 L360.83,789.99 L358.93,788.64 L356.92,787.43 L354.8,786.36 L352.55,785.42 L350.18,784.62 L347.68,783.97 L345.02,783.46 L342.18,783.09 L339.05,782.87 L335.03,782.8 L332.48,782.89 L329.94,783.15 L327.42,783.59 L324.93,784.2 L322.49,784.98 L320.1,785.92 L317.78,787.03 L315.52,788.29 L313.36,789.71 L311.28,791.27 L309.31,792.97 L307.45,794.81 L305.7,796.77 L304.08,798.84 L302.59,801.02 L301.25,803.3 L300.04,805.67 L298.99,808.11 L298.09,810.62 L297.35,813.19 L296.77,815.8 L296.35,818.45 L296.1,821.12 L296.02,823.8 L296.02,824.3 Z" fill="#74207f"/>
<path d="M359.93,824.3 L359.93,823.8 L359.88,821.92 L359.72,820.05 L359.45,818.2 L359.08,816.37 L358.61,814.57 L358.03,812.82 L357.36,811.11 L356.59,809.45 L355.73,807.86 L354.78,806.33 L353.75,804.88 L352.64,803.51 L351.45,802.22 L350.19,801.03 L348.86,799.94 L347.48,798.95 L346.04,798.06 L344.56,797.28 L343.03,796.62 L341.47,796.08 L339.89,795.65 L338.28,795.35 L336.66,795.16 L335.03,795.1 L333.4,795.16 L331.78,795.35 L330.17,795.65 L328.59,796.08 L327.03,796.62 L325.5,797.28 L324.02,798.06 L322.58,798.95 L321.2,799.94 L319.87,801.03 L318.61,802.22 L317.42,803.51 L316.31,804.88 L315.28,806.33 L314.33,807.86 L313.47,809.45 L312.7,811.11 L312.03,812.82 L311.45,814.57 L310.98,816.37 L310.61,818.2 L310.34,820.05 L310.18,821.92 L310.13,823.8 L310.13,824.3 Z" fill="#9a4a8e"/>
<path d="M336.69,824.3 L336.69,823.8 L336.66,823.26 L336.58,822.73 L336.45,822.2 L336.27,821.68 L336.03,821.16 L335.74,820.66 L335.41,820.17 L335.02,819.7 L334.59,819.24 L334.12,818.81 L333.6,818.39 L333.04,818 L332.45,817.63 L331.82,817.29 L331.16,816.98 L330.46,816.7 L329.75,816.45 L329,816.22 L328.24,816.04 L327.46,815.88 L326.67,815.76 L325.87,815.67 L325.05,815.62 L324.24,815.6 L323.26,815.62 L322.29,815.67 L321.33,815.76 L320.37,815.88 L319.44,816.04 L318.52,816.22 L317.63,816.45 L316.77,816.7 L315.94,816.98 L315.15,817.29 L314.39,817.63 L313.68,818 L313.01,818.39 L312.39,818.81 L311.82,819.24 L311.3,819.7 L310.84,820.17 L310.44,820.66 L310.09,821.16 L309.81,821.68 L309.59,822.2 L309.43,822.73 L309.33,823.26 L309.3,823.8 L309.3,824.3 Z" fill="#7a2a80"/>
</g>
<line x1="261" y1="739.5" x2="261" y2="824.3" stroke="#333" stroke-width="1.2"/>
<line x1="257" y1="823.8" x2="426" y2="823.8" stroke="#333" stroke-width="1.3"/>
<line x1="257" y1="741.8" x2="261" y2="741.8" stroke="#333" stroke-width="1"/>
<text x="257.2" y="745.2" font-size="9.5" text-anchor="end" font-weight="normal" font-style="normal" fill="#222" >1.0</text>
<line x1="257" y1="782.8" x2="261" y2="782.8" stroke="#333" stroke-width="1"/>
<text x="257.2" y="786.2" font-size="9.5" text-anchor="end" font-weight="normal" font-style="normal" fill="#222" >0.5</text>
<line x1="257" y1="823.8" x2="261" y2="823.8" stroke="#333" stroke-width="1"/>
<text x="257.2" y="827.2" font-size="9.5" text-anchor="end" font-weight="normal" font-style="normal" fill="#222" >0.0</text>
<line x1="284.4" y1="823.8" x2="284.4" y2="826.8" stroke="#333" stroke-width="1"/>
<text x="282.4" y="836.8" font-size="9.5" text-anchor="middle" font-weight="normal" font-style="normal" fill="#222" >-0.5</text>
<line x1="325.9" y1="823.8" x2="325.9" y2="826.8" stroke="#333" stroke-width="1"/>
<text x="325.9" y="836.8" font-size="9.5" text-anchor="middle" font-weight="normal" font-style="normal" fill="#222" >0.0</text>
<line x1="367.4" y1="823.8" x2="367.4" y2="826.8" stroke="#333" stroke-width="1"/>
<text x="367.4" y="836.8" font-size="9.5" text-anchor="middle" font-weight="normal" font-style="normal" fill="#222" >0.5</text>
<line x1="408.9" y1="823.8" x2="408.9" y2="826.8" stroke="#333" stroke-width="1"/>
<text x="408.9" y="836.8" font-size="9.5" text-anchor="middle" font-weight="normal" font-style="normal" fill="#222" >1.0</text>
<text x="264" y="750.5" font-size="11" text-anchor="start" font-weight="bold" font-style="normal" fill="#111" >I</text>
<text x="424" y="749.5" font-size="10.3" text-anchor="end" font-weight="normal" font-style="normal" fill="#222" >nc14 posterior</text>
<text x="424" y="760.5" font-size="10.3" text-anchor="end" font-weight="normal" font-style="normal" fill="#222" >(3+4)</text>
<path d="M325.9,823.8 L339.18,804.94 L351.63,823.8" fill="none" stroke="#111" stroke-width="1"/>
<circle cx="339.18" cy="804.94" r="3.6" fill="#2a8a22"/>
<circle cx="325.9" cy="823.8" r="3.6" fill="#0010ee"/>
<circle cx="351.63" cy="823.8" r="3.6" fill="#ee3020"/>
<defs><linearGradient id="sbI" x1="0" x2="1" y1="0" y2="0"><stop offset="0" stop-color="#b0b0b0"/><stop offset="0.27" stop-color="#2a2a2a"/><stop offset="0.57" stop-color="#a8a8a8"/><stop offset="0.77" stop-color="#dcdcdc"/><stop offset="1" stop-color="#f2f2f2"/></linearGradient></defs>
<path d="M336.4,844.4 Q336.4,842.7 364.91,842.7 Q442,842.7 442,844.4 Q442,846.1 364.91,846.1 Q336.4,846.1 336.4,844.4 Z" fill="url(#sbI)"/>
<clipPath id="cpJ"><rect x="508.4" y="741.4" width="166.6" height="83.1"/></clipPath>
<rect x="508.4" y="741.4" width="166.6" height="83.1" fill="#e6e6e8"/>
<g clip-path="url(#cpJ)">
<path d="M553.43,752.34 C559.2,739.22 600.45,736.76 625.2,749.06 C659.85,761.36 674.7,795.8 674.7,825.5 L642.53,825.5 C645,799.9 633.45,775.3 608.7,763.82 C588.08,755.62 567.45,758.9 553.43,752.34 Z" fill="#c9d2dc"/>
<path d="M621.9,825 L621.9,824.5 L621.8,821.17 L621.48,817.86 L620.96,814.58 L620.24,811.34 L619.32,808.16 L618.19,805.04 L616.88,802.01 L615.38,799.08 L613.7,796.25 L611.84,793.55 L609.82,790.98 L607.64,788.55 L605.32,786.28 L602.86,784.17 L600.27,782.23 L597.56,780.47 L594.75,778.9 L591.85,777.53 L588.87,776.36 L585.82,775.39 L582.72,774.64 L579.58,774.09 L576.41,773.77 L573.23,773.66 L570.1,773.77 L566.98,774.09 L563.89,774.64 L560.84,775.39 L557.84,776.36 L554.91,777.53 L552.06,778.9 L549.3,780.47 L546.64,782.23 L544.1,784.17 L541.68,786.28 L539.39,788.55 L537.25,790.98 L535.26,793.55 L533.44,796.25 L531.79,799.08 L530.31,802.01 L529.02,805.04 L527.91,808.16 L527.01,811.34 L526.29,814.58 L525.78,817.86 L525.48,821.17 L525.38,824.5 L525.38,825 Z" fill="#eebcbc"/>
<path d="M610.35,825 L610.35,824.5 L610.29,822.19 L610.1,819.9 L609.78,817.62 L609.34,815.37 L608.77,813.17 L608.09,811.01 L607.29,808.9 L606.37,806.87 L605.34,804.91 L604.21,803.04 L602.98,801.25 L601.65,799.57 L600.23,797.99 L598.73,796.53 L597.15,795.18 L595.5,793.96 L593.79,792.88 L592.02,791.92 L590.2,791.11 L588.34,790.44 L586.44,789.92 L584.53,789.54 L582.59,789.32 L580.65,789.24 L578.71,789.32 L576.77,789.54 L574.86,789.92 L572.96,790.44 L571.1,791.11 L569.28,791.92 L567.51,792.88 L565.8,793.96 L564.15,795.18 L562.57,796.53 L561.07,797.99 L559.65,799.57 L558.32,801.25 L557.09,803.04 L555.96,804.91 L554.93,806.87 L554.01,808.9 L553.21,811.01 L552.53,813.17 L551.96,815.37 L551.52,817.62 L551.2,819.9 L551.01,822.19 L550.95,824.5 L550.95,825 Z" fill="#e6e6e8"/>
<path d="M593.03,825 L593.03,824.5 L592.99,823.27 L592.88,822.04 L592.69,820.82 L592.43,819.62 L592.11,818.44 L591.71,817.28 L591.24,816.16 L590.7,815.07 L590.11,814.02 L589.44,813.02 L588.73,812.06 L587.95,811.16 L587.12,810.32 L586.25,809.54 L585.33,808.82 L584.36,808.17 L583.36,807.58 L582.33,807.08 L581.27,806.64 L580.18,806.28 L579.08,806 L577.96,805.8 L576.83,805.68 L575.7,805.64 L574.57,805.68 L573.44,805.8 L572.32,806 L571.22,806.28 L570.13,806.64 L569.07,807.08 L568.04,807.58 L567.04,808.17 L566.07,808.82 L565.15,809.54 L564.28,810.32 L563.45,811.16 L562.67,812.06 L561.96,813.02 L561.29,814.02 L560.7,815.07 L560.16,816.16 L559.69,817.28 L559.29,818.44 L558.97,819.62 L558.71,820.82 L558.52,822.04 L558.41,823.27 L558.38,824.5 L558.38,825 Z" fill="#cdd7e2"/>
<path d="M583.95,825 L583.95,824.5 L583.93,823.91 L583.88,823.32 L583.79,822.74 L583.67,822.17 L583.51,821.6 L583.32,821.05 L583.1,820.51 L582.84,819.99 L582.56,819.49 L582.25,819.01 L581.9,818.55 L581.53,818.12 L581.14,817.72 L580.72,817.34 L580.28,817 L579.83,816.69 L579.35,816.41 L578.86,816.17 L578.35,815.96 L577.84,815.79 L577.31,815.65 L576.78,815.56 L576.24,815.5 L575.7,815.48 L575.11,815.5 L574.52,815.56 L573.93,815.65 L573.35,815.79 L572.78,815.96 L572.23,816.17 L571.69,816.41 L571.16,816.69 L570.66,817 L570.18,817.34 L569.72,817.72 L569.28,818.12 L568.88,818.55 L568.5,819.01 L568.15,819.49 L567.84,819.99 L567.56,820.51 L567.32,821.05 L567.11,821.6 L566.93,822.17 L566.8,822.74 L566.7,823.32 L566.64,823.91 L566.62,824.5 L566.62,825 Z" fill="#aecbe8"/>
</g>
<line x1="508.4" y1="740.4" x2="508.4" y2="825" stroke="#333" stroke-width="1.2"/>
<line x1="504.4" y1="824.5" x2="675" y2="824.5" stroke="#333" stroke-width="1.3"/>
<line x1="504.4" y1="742.5" x2="508.4" y2="742.5" stroke="#333" stroke-width="1"/>
<text x="504.6" y="745.9" font-size="9.5" text-anchor="end" font-weight="normal" font-style="normal" fill="#222" >1.0</text>
<line x1="504.4" y1="783.5" x2="508.4" y2="783.5" stroke="#333" stroke-width="1"/>
<text x="504.6" y="786.9" font-size="9.5" text-anchor="end" font-weight="normal" font-style="normal" fill="#222" >0.5</text>
<line x1="504.4" y1="824.5" x2="508.4" y2="824.5" stroke="#333" stroke-width="1"/>
<text x="504.6" y="827.9" font-size="9.5" text-anchor="end" font-weight="normal" font-style="normal" fill="#222" >0.0</text>
<line x1="534.45" y1="824.5" x2="534.45" y2="827.5" stroke="#333" stroke-width="1"/>
<text x="532.45" y="837.5" font-size="9.5" text-anchor="middle" font-weight="normal" font-style="normal" fill="#222" >-0.5</text>
<line x1="575.7" y1="824.5" x2="575.7" y2="827.5" stroke="#333" stroke-width="1"/>
<text x="575.7" y="837.5" font-size="9.5" text-anchor="middle" font-weight="normal" font-style="normal" fill="#222" >0.0</text>
<line x1="616.95" y1="824.5" x2="616.95" y2="827.5" stroke="#333" stroke-width="1"/>
<text x="616.95" y="837.5" font-size="9.5" text-anchor="middle" font-weight="normal" font-style="normal" fill="#222" >0.5</text>
<line x1="658.2" y1="824.5" x2="658.2" y2="827.5" stroke="#333" stroke-width="1"/>
<text x="658.2" y="837.5" font-size="9.5" text-anchor="middle" font-weight="normal" font-style="normal" fill="#222" >1.0</text>
<text x="511.4" y="751.4" font-size="11" text-anchor="start" font-weight="bold" font-style="normal" fill="#111" >J</text>
<text x="660.7" y="753.8" font-size="10.8" text-anchor="end" fill="#222">WT nc14: <tspan fill="#ee2020">anterior</tspan></text>
<text x="660.7" y="765.4" font-size="10.8" text-anchor="end" fill="#222">- <tspan fill="#2040ee">posterior</tspan></text>
<circle cx="668.6" cy="750.3" r="3.9" fill="none" stroke="#888" stroke-width="1.1"/>
<rect x="664.8" y="758.7" width="7.4" height="7" fill="none" stroke="#888" stroke-width="1.1"/>
<path d="M575.7,824.5 L588.9,805.64 L600.45,824.5" fill="none" stroke="#111" stroke-width="1" stroke-dasharray="2,1.2"/>
<path d="M575.7,824.5 L593.85,799.9 L607.05,824.5" fill="none" stroke="#111" stroke-width="1"/>
<circle cx="593.85" cy="799.9" r="3.6" fill="#2a8a22"/>
<circle cx="607.05" cy="824.5" r="3.6" fill="#f03a30" fill-opacity="0.7"/>
<rect x="571.9" y="820.7" width="7.6" height="7.6" fill="#3040f0" fill-opacity="0.9" stroke="#2020ee" stroke-width="0.8"/>
<rect x="585.2" y="801.84" width="7.4" height="7.6" fill="none" stroke="#2a9a22" stroke-width="1"/>
<rect x="596.65" y="820.9" width="7.6" height="7.4" fill="none" stroke="#f03030" stroke-width="1"/>
<defs><linearGradient id="dbJ1" x1="0" x2="1" y1="0" y2="0"><stop offset="0" stop-color="#a0a0a0"/><stop offset="0.22" stop-color="#555"/><stop offset="0.45" stop-color="#9a9a9a"/><stop offset="0.7" stop-color="#d4d4d4"/><stop offset="1" stop-color="#f0f0f0"/></linearGradient></defs>
<rect x="575" y="839.1" width="100.8" height="3.3" fill="url(#dbJ1)" stroke="#c8c8c8" stroke-width="0.6"/>
<defs><linearGradient id="dbJ2" x1="0" x2="1" y1="0" y2="0"><stop offset="0" stop-color="#8a8a8a"/><stop offset="0.15" stop-color="#3a3a3a"/><stop offset="0.27" stop-color="#050505"/><stop offset="0.4" stop-color="#5a5a5a"/><stop offset="0.58" stop-color="#c4c4c4"/><stop offset="0.8" stop-color="#e8e8e8"/><stop offset="1" stop-color="#f4f4f4"/></linearGradient></defs>
<rect x="575" y="844.1" width="100.8" height="3" fill="url(#dbJ2)" stroke="#c8c8c8" stroke-width="0.6"/>
<rect x="23" y="632.8" width="7.3" height="9.55" fill="#e8602a"/>
<rect x="23" y="642.05" width="7.3" height="9.55" fill="#ec7530"/>
<rect x="23" y="651.3" width="7.3" height="9.55" fill="#ef8a35"/>
<rect x="23" y="660.55" width="7.3" height="9.55" fill="#f09c3a"/>
<rect x="23" y="669.8" width="7.3" height="9.55" fill="#f2ae50"/>
<rect x="23" y="679.05" width="7.3" height="9.55" fill="#f4c06e"/>
<rect x="23" y="688.3" width="7.3" height="9.55" fill="#f2cc8a"/>
<rect x="23" y="697.55" width="7.3" height="9.55" fill="#d8a088"/>
<rect x="23" y="706.8" width="7.3" height="9.55" fill="#b87088"/>
<rect x="23" y="716.05" width="7.3" height="9.55" fill="#984488"/>
<rect x="23" y="725.3" width="7.3" height="9.55" fill="#741884"/>
<rect x="23" y="734.55" width="7.3" height="9.55" fill="#b890c8"/>
<rect x="23" y="743.8" width="7.3" height="9.55" fill="#dccfe4"/>
<rect x="23" y="753.05" width="7.3" height="9.55" fill="#f2eef4"/>
<rect x="23" y="632.8" width="7.3" height="129.5" fill="none" stroke="#aaa" stroke-width="0.5"/>
<line x1="21" y1="632.8" x2="23" y2="632.8" stroke="#444" stroke-width="0.8"/>
<text x="22" y="635.8" font-size="8.4" text-anchor="end" font-weight="normal" font-style="normal" fill="#333" >3.5</text>
<line x1="21" y1="651.3" x2="23" y2="651.3" stroke="#444" stroke-width="0.8"/>
<text x="22" y="654.3" font-size="8.4" text-anchor="end" font-weight="normal" font-style="normal" fill="#333" >3.0</text>
<line x1="21" y1="669.8" x2="23" y2="669.8" stroke="#444" stroke-width="0.8"/>
<text x="22" y="672.8" font-size="8.4" text-anchor="end" font-weight="normal" font-style="normal" fill="#333" >2.5</text>
<line x1="21" y1="688.3" x2="23" y2="688.3" stroke="#444" stroke-width="0.8"/>
<text x="22" y="691.3" font-size="8.4" text-anchor="end" font-weight="normal" font-style="normal" fill="#333" >2.0</text>
<line x1="21" y1="706.8" x2="23" y2="706.8" stroke="#444" stroke-width="0.8"/>
<text x="22" y="709.8" font-size="8.4" text-anchor="end" font-weight="normal" font-style="normal" fill="#333" >1.5</text>
<line x1="21" y1="725.3" x2="23" y2="725.3" stroke="#444" stroke-width="0.8"/>
<text x="22" y="728.3" font-size="8.4" text-anchor="end" font-weight="normal" font-style="normal" fill="#333" >1.0</text>
<line x1="21" y1="743.8" x2="23" y2="743.8" stroke="#444" stroke-width="0.8"/>
<text x="22" y="746.8" font-size="8.4" text-anchor="end" font-weight="normal" font-style="normal" fill="#333" >0.5</text>
<line x1="21" y1="762.3" x2="23" y2="762.3" stroke="#444" stroke-width="0.8"/>
<text x="22" y="765.3" font-size="8.4" text-anchor="end" font-weight="normal" font-style="normal" fill="#333" >0.0</text>
<text x="0" y="0" font-size="9.3" fill="#222" text-anchor="middle" transform="translate(7.4,700) rotate(-90)">f (x,y) Probability density</text>
<rect x="466.8" y="621.3" width="7.3" height="7.16" fill="#3a0a0a"/>
<rect x="466.8" y="628.16" width="7.3" height="7.16" fill="#4a0c0c"/>
<rect x="466.8" y="635.02" width="7.3" height="7.16" fill="#6a1010"/>
<rect x="466.8" y="641.87" width="7.3" height="7.16" fill="#8a1a1a"/>
<rect x="466.8" y="648.73" width="7.3" height="7.16" fill="#a02222"/>
<rect x="466.8" y="655.59" width="7.3" height="7.16" fill="#c03a30"/>
<rect x="466.8" y="662.45" width="7.3" height="7.16" fill="#d85a50"/>
<rect x="466.8" y="669.31" width="7.3" height="7.16" fill="#e89090"/>
<rect x="466.8" y="676.16" width="7.3" height="7.16" fill="#efc0c0"/>
<rect x="466.8" y="683.02" width="7.3" height="7.16" fill="#e6e6e6"/>
<rect x="466.8" y="689.88" width="7.3" height="7.16" fill="#c8d0d8"/>
<rect x="466.8" y="696.74" width="7.3" height="7.16" fill="#a0c8e4"/>
<rect x="466.8" y="703.59" width="7.3" height="7.16" fill="#6aa0d0"/>
<rect x="466.8" y="710.45" width="7.3" height="7.16" fill="#4a88c4"/>
<rect x="466.8" y="717.31" width="7.3" height="7.16" fill="#3a70b4"/>
<rect x="466.8" y="724.17" width="7.3" height="7.16" fill="#2a5aa0"/>
<rect x="466.8" y="731.03" width="7.3" height="7.16" fill="#1e4888"/>
<rect x="466.8" y="737.88" width="7.3" height="7.16" fill="#163670"/>
<rect x="466.8" y="744.74" width="7.3" height="7.16" fill="#0e2060"/>
<text x="463.4" y="625.8" font-size="8.4" text-anchor="end" font-weight="normal" font-style="normal" fill="#333" >1.8</text>
<text x="463.4" y="646.3" font-size="8.4" text-anchor="end" font-weight="normal" font-style="normal" fill="#333" >1.2</text>
<text x="463.4" y="668.4" font-size="8.4" text-anchor="end" font-weight="normal" font-style="normal" fill="#333" >0.6</text>
<text x="463.4" y="687.2" font-size="8.4" text-anchor="end" font-weight="normal" font-style="normal" fill="#333" >0.0</text>
<text x="463.4" y="711" font-size="8.4" text-anchor="end" font-weight="normal" font-style="normal" fill="#333" >-0.6</text>
<text x="463.4" y="732.4" font-size="8.4" text-anchor="end" font-weight="normal" font-style="normal" fill="#333" >-1.2</text>
<text x="463.4" y="752.9" font-size="8.4" text-anchor="end" font-weight="normal" font-style="normal" fill="#333" >-1.8</text>
<text x="0" y="0" font-size="9.5" fill="#222" text-anchor="middle" transform="translate(446.5,693) rotate(-90)">Δf (x,y)</text>
<text x="489.6" y="674.8" font-size="9.3" text-anchor="start" font-weight="bold" font-style="normal" fill="#111" >Global p-value:</text>
<text x="567.7" y="674.8" font-size="9.3" text-anchor="start" font-weight="normal" font-style="normal" fill="#222" >p= 0.00097 driven by</text>
<text x="567.7" y="684.1" font-size="9.3" text-anchor="start" font-weight="normal" font-style="normal" fill="#222" >E1-PPE, E2-PPE</text>
<text x="489.6" y="706.3" font-size="9.3" text-anchor="start" font-weight="bold" font-style="normal" fill="#111" >Interpretation:</text>
<text x="567.7" y="706.3" font-size="9.3" text-anchor="start" font-weight="normal" font-style="normal" fill="#222" >PPE is closer to both E1</text>
<text x="567.7" y="715.6" font-size="9.3" text-anchor="start" font-weight="normal" font-style="normal" fill="#222" >and E2 at active region</text>
<text x="567.7" y="724.9" font-size="9.3" text-anchor="start" font-weight="normal" font-style="normal" fill="#222" >compared to inactive region</text>
<text x="502.6" y="871.6" font-size="9.3" text-anchor="start" font-weight="bold" font-style="normal" fill="#111" >Global p-value:</text>
<text x="580.2" y="871.6" font-size="9.3" text-anchor="start" font-weight="normal" font-style="normal" fill="#222" >p=0.0075&#160; driven</text>
<text x="580.2" y="880.9" font-size="9.3" text-anchor="start" font-weight="normal" font-style="normal" fill="#222" >by E1-PPE</text>
<text x="502.6" y="903" font-size="9.3" text-anchor="start" font-weight="bold" font-style="normal" fill="#111" >Interpretation:</text>
<text x="580.2" y="903" font-size="9.3" text-anchor="start" font-weight="normal" font-style="normal" fill="#222" >PPE is closer to E1 in the</text>
<text x="580.2" y="912.3" font-size="9.3" text-anchor="start" font-weight="normal" font-style="normal" fill="#222" >posterior than in the</text>
<text x="580.2" y="921.6" font-size="9.3" text-anchor="start" font-weight="normal" font-style="normal" fill="#222" >anterior at nc14</text>
<text x="0" y="0" font-size="9.5" fill="#222" text-anchor="middle" transform="translate(36.1,586.5) rotate(-90)">Y (µm)</text>
<text x="134" y="659" font-size="9.5" text-anchor="middle" font-weight="normal" font-style="normal" fill="#222" >X (µm)</text>
<rect x="11.5" y="856.7" width="477" height="80.4" fill="#fff" stroke="#8a8a8a" stroke-width="1"/>
<circle cx="18.9" cy="865.4" r="5.2" fill="#1a8a1a"/>
<circle cx="18.9" cy="892.6" r="5.2" fill="#1010ee"/>
<circle cx="18.9" cy="921" r="5.2" fill="#f01010"/>
<text x="26.6" y="867.5" font-size="9.5" text-anchor="start" font-weight="normal" font-style="normal" fill="#f02020" >PPE MPP</text>
<text x="26.6" y="877.2" font-size="9.5" text-anchor="start" font-weight="normal" font-style="normal" fill="#f02020" >contour 1</text>
<text x="26.6" y="894.7" font-size="9.5" text-anchor="start" font-weight="normal" font-style="normal" fill="#f02020" >E1 contour</text>
<text x="26.6" y="903.7" font-size="9.5" text-anchor="start" font-weight="normal" font-style="normal" fill="#f02020" >1</text>
<text x="26.6" y="922.7" font-size="9.5" text-anchor="start" font-weight="normal" font-style="normal" fill="#f02020" >E2 MPP</text>
<text x="26.6" y="932.3" font-size="9.5" text-anchor="start" font-weight="normal" font-style="normal" fill="#f02020" >contour 1</text>
<path d="M100,866 h10.6" stroke="#111" stroke-width="1.3" stroke-dasharray="2.4,1.7"/>
<path d="M100.2,907 h12" stroke="#111" stroke-width="1.4"/>
<text x="116.9" y="868.7" font-size="9.5" text-anchor="start" font-weight="normal" font-style="normal" fill="#2030ee" >Mode</text>
<text x="116.9" y="878.5" font-size="9.5" text-anchor="start" font-weight="normal" font-style="normal" fill="#2030ee" >distances</text>
<text x="116.9" y="888" font-size="9.5" text-anchor="start" font-weight="normal" font-style="normal" fill="#2030ee" >contour 2</text>
<text x="115.7" y="911.2" font-size="9.5" text-anchor="start" font-weight="normal" font-style="normal" fill="#f02020" >Mode</text>
<text x="115.7" y="921.3" font-size="9.5" text-anchor="start" font-weight="normal" font-style="normal" fill="#f02020" >distances</text>
<text x="115.7" y="930.6" font-size="9.5" text-anchor="start" font-weight="normal" font-style="normal" fill="#f02020" >contour 1</text>
<rect x="181.6" y="860.3" width="11" height="11" fill="none" stroke="#2a9a22" stroke-width="1.2"/>
<rect x="181.6" y="890" width="11" height="10.5" fill="none" stroke="#2030ee" stroke-width="1.2"/>
<rect x="181.6" y="917" width="11" height="10.5" fill="none" stroke="#f02020" stroke-width="1.2"/>
<text x="194.4" y="867.5" font-size="9.5" text-anchor="start" font-weight="normal" font-style="normal" fill="#2030ee" >PPE MPP</text>
<text x="194.4" y="877.6" font-size="9.5" text-anchor="start" font-weight="normal" font-style="normal" fill="#2030ee" >contour 2</text>
<text x="194.4" y="896.7" font-size="9.5" text-anchor="start" font-weight="normal" font-style="normal" fill="#2030ee" >E1 contour 2</text>
<text x="194.4" y="923.6" font-size="9.5" text-anchor="start" font-weight="normal" font-style="normal" fill="#2030ee" >E2 MPP</text>
<text x="194.4" y="933" font-size="9.5" text-anchor="start" font-weight="normal" font-style="normal" fill="#2030ee" >contour 2</text>
<defs><linearGradient id="gbar" x1="0" x2="1"><stop offset="0" stop-color="#fff"/><stop offset="1" stop-color="#000"/></linearGradient></defs>
<text x="273.5" y="888.8" font-size="9.3" text-anchor="start" font-weight="normal" font-style="normal" fill="#222" >E1-E2 probability density</text>
<rect x="271.5" y="890.4" width="206" height="6" fill="url(#gbar)" stroke="#ccc" stroke-width="0.4"/>
<line x1="273" y1="896.4" x2="273" y2="899" stroke="#444" stroke-width="0.8"/>
<text x="274.5" y="905.8" font-size="8.8" text-anchor="middle" font-weight="normal" font-style="normal" fill="#333" >0.0</text>
<line x1="298.6" y1="896.4" x2="298.6" y2="899" stroke="#444" stroke-width="0.8"/>
<text x="300.1" y="905.8" font-size="8.8" text-anchor="middle" font-weight="normal" font-style="normal" fill="#333" >0.2</text>
<line x1="324.2" y1="896.4" x2="324.2" y2="899" stroke="#444" stroke-width="0.8"/>
<text x="325.7" y="905.8" font-size="8.8" text-anchor="middle" font-weight="normal" font-style="normal" fill="#333" >0.4</text>
<line x1="349.8" y1="896.4" x2="349.8" y2="899" stroke="#444" stroke-width="0.8"/>
<text x="351.3" y="905.8" font-size="8.8" text-anchor="middle" font-weight="normal" font-style="normal" fill="#333" >0.6</text>
<line x1="375.4" y1="896.4" x2="375.4" y2="899" stroke="#444" stroke-width="0.8"/>
<text x="376.9" y="905.8" font-size="8.8" text-anchor="middle" font-weight="normal" font-style="normal" fill="#333" >0.8</text>
<line x1="401" y1="896.4" x2="401" y2="899" stroke="#444" stroke-width="0.8"/>
<text x="402.5" y="905.8" font-size="8.8" text-anchor="middle" font-weight="normal" font-style="normal" fill="#333" >1.0</text>
<line x1="426.6" y1="896.4" x2="426.6" y2="899" stroke="#444" stroke-width="0.8"/>
<text x="428.1" y="905.8" font-size="8.8" text-anchor="middle" font-weight="normal" font-style="normal" fill="#333" >1.2</text>
<line x1="452.2" y1="896.4" x2="452.2" y2="899" stroke="#444" stroke-width="0.8"/>
<text x="453.7" y="905.8" font-size="8.8" text-anchor="middle" font-weight="normal" font-style="normal" fill="#333" >1.4</text>
<line x1="477.8" y1="896.4" x2="477.8" y2="899" stroke="#444" stroke-width="0.8"/>
<text x="479.3" y="905.8" font-size="8.8" text-anchor="middle" font-weight="normal" font-style="normal" fill="#333" >1.6</text>
</svg></body></html>
